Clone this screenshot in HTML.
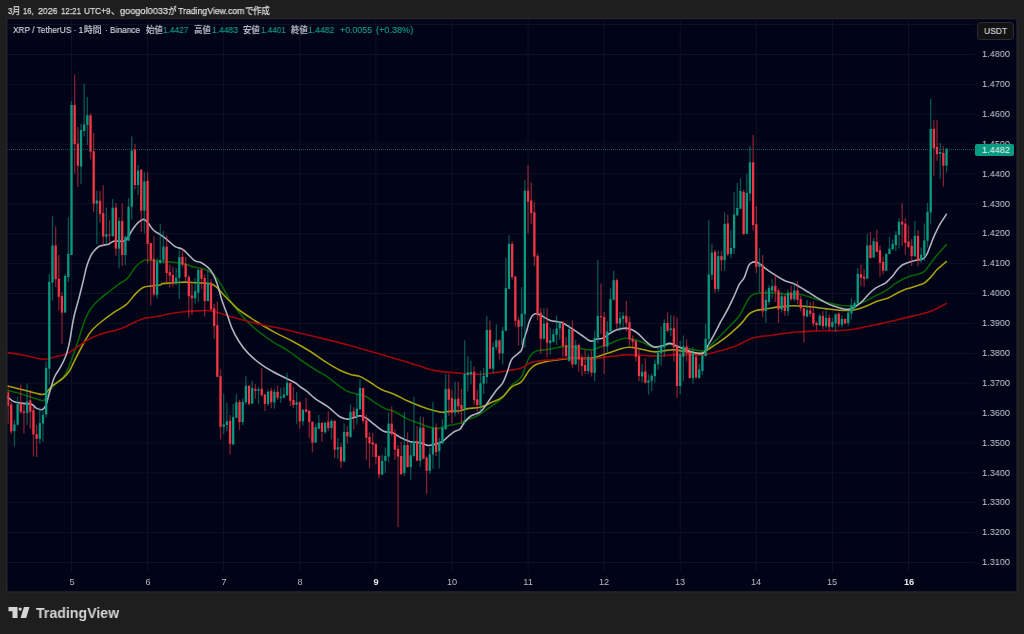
<!DOCTYPE html>
<html><head><meta charset="utf-8"><title>XRPUSDT</title>
<style>
html,body{margin:0;padding:0}
body{-webkit-font-smoothing:antialiased;width:1024px;height:634px;background:#1e1e1e;overflow:hidden;position:relative;font-family:"Liberation Sans","Noto Sans CJK JP",sans-serif;}
.hs,.ls,.pl,.xl,#last span,#usdt span,#logot span{will-change:transform}
.hs{position:absolute;top:3.6px;height:14px;line-height:14px;font-size:9.6px;color:#dcdcdc;white-space:nowrap;transform-origin:0 50%;-webkit-text-stroke:0.25px #dcdcdc}
#chart{position:absolute;left:6px;top:18px;width:1011.9px;height:574.8px;background:#010317;box-sizing:border-box;border:1.5px solid #1b1c23;overflow:hidden}
#plot{position:absolute;left:0;top:0}
.ls{position:absolute;top:23.3px;height:14px;line-height:14px;font-size:8.8px;white-space:nowrap;transform-origin:0 50%}
.ls.w{color:#d5d8df;-webkit-text-stroke:0.15px #d5d8df}
.ls.g{color:#0f9b84;-webkit-text-stroke:0.15px #0f9b84}
.pl{position:absolute;left:981.6px;width:40px;height:13px;line-height:13px;font-size:9.5px;color:#c9ccd3;text-align:left;transform:scaleX(0.965);transform-origin:0 50%;white-space:nowrap}
.xl{position:absolute;top:576px;width:40px;text-align:center;height:13px;line-height:13px;font-size:9.2px;color:#b6b9c2}
.xl.b{font-weight:bold;color:#e8e9ec}
#usdt{position:absolute;left:977.3px;top:21.7px;width:37.2px;height:18.6px;box-sizing:border-box;border:1px solid #2b2d36;border-radius:3.5px;background:#131313;}
#usdt span{position:absolute;left:0;top:0.6px;width:35.2px;text-align:center;color:#d3d3d6;font-size:9.7px;line-height:16px;transform:scaleX(0.88);-webkit-text-stroke:0.2px #d3d3d6}
#last{position:absolute;left:975.3px;top:143.6px;width:38.9px;height:12px;background:#0a9b82;border-radius:2px;}
#last span{position:absolute;left:6.6px;top:-0.4px;color:#f0f3f2;font-size:9.5px;line-height:13px;transform:scaleX(0.965);transform-origin:0 50%;white-space:nowrap}
#logo{position:absolute;left:0px;top:600px}
#logot{position:absolute;left:35.6px;top:603.4px;height:19px;}
#logot span{display:inline-block;font-size:15px;font-weight:bold;color:#d6d6d6;line-height:19px;white-space:nowrap;transform-origin:0 50%;transform:scaleX(0.9433)}
</style></head><body>
<span class="hs" style="left:7.50px;transform:scaleX(0.8421)">3</span><span class="hs" style="left:12.00px;transform:scaleX(0.8964)">月</span><span class="hs" style="left:23.40px;transform:scaleX(0.7944)">16,</span><span class="hs" style="left:37.50px;transform:scaleX(0.9136)">2026</span><span class="hs" style="left:61.00px;transform:scaleX(0.8328)">12:21</span><span class="hs" style="left:83.60px;transform:scaleX(0.8677)">UTC+9</span><span class="hs" style="left:110.60px;transform:scaleX(0.8964)">、</span><span class="hs" style="left:120.00px;transform:scaleX(0.9590)">googol0033</span><span class="hs" style="left:168.10px;transform:scaleX(0.8964)">が</span><span class="hs" style="left:177.50px;transform:scaleX(0.9088)">TradingView.com</span><span class="hs" style="left:244.50px;transform:scaleX(0.8860)">で</span><span class="hs" style="left:253.10px;transform:scaleX(0.8756)">作成</span>
<svg id="plot" width="1024" height="634" viewBox="0 0 1024 634">
<defs><clipPath id="cp"><rect x="7.5" y="19.3" width="1008.9" height="571.9"/></clipPath></defs>
<rect x="6.75" y="18.55" width="1010.4" height="573.4" fill="#010317" stroke="#24252b" stroke-width="1.5"/>
<g clip-path="url(#cp)">
<line x1="7" y1="24.619999999999973" x2="974.5" y2="24.619999999999973" stroke="#0f1126" stroke-width="1"/>
<line x1="7" y1="54.5" x2="974.5" y2="54.5" stroke="#0f1126" stroke-width="1"/>
<line x1="7" y1="84.38000000000002" x2="974.5" y2="84.38000000000002" stroke="#0f1126" stroke-width="1"/>
<line x1="7" y1="114.26000000000005" x2="974.5" y2="114.26000000000005" stroke="#0f1126" stroke-width="1"/>
<line x1="7" y1="144.1400000000001" x2="974.5" y2="144.1400000000001" stroke="#0f1126" stroke-width="1"/>
<line x1="7" y1="174.0200000000001" x2="974.5" y2="174.0200000000001" stroke="#0f1126" stroke-width="1"/>
<line x1="7" y1="203.90000000000012" x2="974.5" y2="203.90000000000012" stroke="#0f1126" stroke-width="1"/>
<line x1="7" y1="233.78000000000017" x2="974.5" y2="233.78000000000017" stroke="#0f1126" stroke-width="1"/>
<line x1="7" y1="263.6600000000002" x2="974.5" y2="263.6600000000002" stroke="#0f1126" stroke-width="1"/>
<line x1="7" y1="293.5400000000002" x2="974.5" y2="293.5400000000002" stroke="#0f1126" stroke-width="1"/>
<line x1="7" y1="323.42000000000024" x2="974.5" y2="323.42000000000024" stroke="#0f1126" stroke-width="1"/>
<line x1="7" y1="353.30000000000024" x2="974.5" y2="353.30000000000024" stroke="#0f1126" stroke-width="1"/>
<line x1="7" y1="383.1799999999996" x2="974.5" y2="383.1799999999996" stroke="#0f1126" stroke-width="1"/>
<line x1="7" y1="413.06000000000034" x2="974.5" y2="413.06000000000034" stroke="#0f1126" stroke-width="1"/>
<line x1="7" y1="442.93999999999966" x2="974.5" y2="442.93999999999966" stroke="#0f1126" stroke-width="1"/>
<line x1="7" y1="472.8199999999997" x2="974.5" y2="472.8199999999997" stroke="#0f1126" stroke-width="1"/>
<line x1="7" y1="502.69999999999976" x2="974.5" y2="502.69999999999976" stroke="#0f1126" stroke-width="1"/>
<line x1="7" y1="532.5799999999997" x2="974.5" y2="532.5799999999997" stroke="#0f1126" stroke-width="1"/>
<line x1="7" y1="562.4599999999998" x2="974.5" y2="562.4599999999998" stroke="#0f1126" stroke-width="1"/>
<line x1="71.5" y1="19" x2="71.5" y2="571.5" stroke="#0f1126" stroke-width="1"/>
<line x1="147.59" y1="19" x2="147.59" y2="571.5" stroke="#0f1126" stroke-width="1"/>
<line x1="223.68" y1="19" x2="223.68" y2="571.5" stroke="#0f1126" stroke-width="1"/>
<line x1="299.77" y1="19" x2="299.77" y2="571.5" stroke="#0f1126" stroke-width="1"/>
<line x1="375.86" y1="19" x2="375.86" y2="571.5" stroke="#0f1126" stroke-width="1"/>
<line x1="451.95000000000005" y1="19" x2="451.95000000000005" y2="571.5" stroke="#0f1126" stroke-width="1"/>
<line x1="528.04" y1="19" x2="528.04" y2="571.5" stroke="#0f1126" stroke-width="1"/>
<line x1="604.13" y1="19" x2="604.13" y2="571.5" stroke="#0f1126" stroke-width="1"/>
<line x1="680.22" y1="19" x2="680.22" y2="571.5" stroke="#0f1126" stroke-width="1"/>
<line x1="756.3100000000001" y1="19" x2="756.3100000000001" y2="571.5" stroke="#0f1126" stroke-width="1"/>
<line x1="832.4000000000001" y1="19" x2="832.4000000000001" y2="571.5" stroke="#0f1126" stroke-width="1"/>
<line x1="908.49" y1="19" x2="908.49" y2="571.5" stroke="#0f1126" stroke-width="1"/>
<path d="M5.1,389.7 C5.5,389.8 4.5,389.6 7.6,390.4 C10.7,391.2 18.1,393.1 23.7,394.7 C29.3,396.3 37.5,399.5 41.0,400.2 C44.5,400.9 43.1,401.2 45.0,399.1 C46.9,397.0 49.1,391.2 52.1,387.6 C55.1,384.0 60.2,381.0 63.1,377.3 C66.0,373.6 67.3,370.5 69.4,365.5 C71.5,360.5 74.2,351.6 75.7,347.4 C77.2,343.1 77.4,343.2 78.4,340.0 C79.5,336.8 80.6,332.4 82.0,328.4 C83.4,324.3 85.2,319.1 86.8,315.7 C88.4,312.3 89.5,310.4 91.5,307.8 C93.5,305.2 95.4,302.9 98.6,300.0 C101.8,297.1 107.0,293.3 110.5,290.5 C114.0,287.7 117.0,285.5 119.9,283.4 C122.8,281.3 125.2,280.7 127.8,277.9 C130.4,275.1 133.1,269.7 135.7,266.8 C138.3,263.9 141.0,261.6 143.6,260.5 C146.2,259.4 148.8,260.4 151.5,260.5 C154.2,260.6 156.8,261.1 160.0,261.3 C163.2,261.6 166.4,261.6 170.5,262.0 C174.6,262.4 180.8,263.0 184.7,263.9 C188.6,264.8 190.8,266.2 194.2,267.1 C197.6,268.0 202.0,268.2 205.2,269.4 C208.3,270.6 210.5,271.7 213.1,274.2 C215.7,276.7 218.4,280.3 221.0,284.4 C223.6,288.5 226.0,294.0 228.9,298.6 C231.8,303.2 235.2,307.9 238.4,311.8 C241.6,315.7 244.1,318.6 247.8,322.1 C251.5,325.7 256.3,329.8 260.5,333.1 C264.7,336.4 268.4,338.8 273.1,341.8 C277.8,344.8 284.4,348.4 288.9,351.3 C293.4,354.2 295.5,356.4 300.0,359.5 C304.5,362.6 311.3,367.2 315.8,370.0 C320.3,372.8 323.1,373.8 326.8,376.3 C330.5,378.8 334.5,382.5 337.9,385.0 C341.3,387.5 344.1,389.8 347.3,391.3 C350.5,392.8 353.6,393.1 356.8,394.0 C360.0,394.9 363.2,395.3 366.3,396.8 C369.4,398.3 372.6,401.1 375.7,403.1 C378.8,405.1 382.0,407.2 385.2,408.7 C388.4,410.1 391.0,410.1 394.7,411.8 C398.4,413.5 403.1,416.9 407.3,418.9 C411.5,420.9 416.2,422.2 419.9,423.6 C423.6,425.0 426.2,426.3 429.4,427.1 C432.6,427.9 436.0,428.6 438.9,428.4 C441.8,428.2 443.2,426.9 446.7,426.0 C450.2,425.1 457.0,424.2 460.0,423.3 C463.0,422.4 461.6,421.9 464.5,420.7 C467.4,419.5 472.9,418.2 477.1,416.0 C481.3,413.8 485.5,410.3 489.7,407.3 C493.9,404.3 498.6,401.6 502.3,397.9 C506.0,394.2 508.6,388.6 511.8,385.2 C515.0,381.8 518.9,380.7 521.3,377.3 C523.7,373.9 524.4,368.4 526.0,364.7 C527.6,361.0 528.9,357.5 530.7,355.2 C532.5,352.9 533.8,351.8 537.0,350.8 C540.2,349.8 545.5,350.0 549.7,349.3 C553.9,348.6 558.1,347.0 562.3,346.6 C566.5,346.2 571.2,346.6 574.9,347.0 C578.6,347.4 581.5,348.9 584.4,349.3 C587.3,349.8 589.4,350.1 592.3,349.7 C595.2,349.2 598.8,347.6 601.7,346.6 C604.7,345.6 607.3,344.7 610.0,343.6 C612.7,342.5 615.3,341.1 617.9,340.2 C620.5,339.3 623.2,338.3 625.8,338.2 C628.4,338.1 630.8,338.7 633.7,339.4 C636.6,340.1 640.0,341.3 643.1,342.6 C646.2,343.9 649.7,346.4 652.6,347.0 C655.5,347.6 657.6,346.9 660.5,346.5 C663.4,346.1 667.1,344.4 670.0,344.5 C672.9,344.6 674.8,346.3 677.9,347.0 C681.0,347.7 685.5,348.3 688.9,348.9 C692.3,349.5 695.8,350.2 698.4,350.5 C701.0,350.8 702.6,351.4 704.7,350.5 C706.8,349.6 708.4,347.5 711.0,345.0 C713.6,342.5 717.4,338.7 720.5,335.5 C723.6,332.3 726.8,329.3 729.9,326.0 C733.0,322.7 736.5,320.0 739.4,315.8 C742.3,311.6 745.2,304.2 747.3,300.8 C749.4,297.4 750.2,296.4 752.0,295.2 C753.8,293.9 755.3,293.7 758.3,293.3 C761.3,292.9 765.5,292.7 770.0,292.8 C774.5,292.9 781.1,294.0 785.5,294.1 C789.9,294.2 792.9,293.3 796.6,293.7 C800.3,294.1 803.9,295.2 807.6,296.3 C811.3,297.4 814.9,298.9 818.6,300.0 C822.3,301.1 826.3,302.2 829.7,303.1 C833.1,304.0 836.1,304.8 839.2,305.2 C842.4,305.6 845.7,305.9 848.6,305.8 C851.5,305.7 853.6,305.5 856.5,304.7 C859.4,303.9 862.8,302.3 866.0,300.8 C869.2,299.3 873.2,296.9 875.5,295.7 C877.8,294.5 878.0,294.9 880.0,293.8 C882.0,292.8 885.1,291.1 887.6,289.4 C890.1,287.7 892.7,285.4 895.2,283.7 C897.7,282.0 900.2,280.6 902.7,279.3 C905.2,278.0 907.8,277.0 910.3,276.1 C912.8,275.2 915.6,274.9 917.9,274.2 C920.2,273.5 922.1,273.5 924.2,271.7 C926.3,269.9 928.4,266.2 930.5,263.5 C932.6,260.8 934.9,257.6 936.8,255.3 C938.7,253.0 940.3,251.4 941.9,249.6 C943.5,247.8 945.6,245.4 946.3,244.6" fill="none" stroke="#056205" stroke-width="1.6" stroke-linejoin="round" stroke-linecap="round"/>
<path d="M5.1,385.4 C5.5,385.5 4.5,385.2 7.6,386.0 C10.7,386.8 18.1,388.6 23.7,390.0 C29.3,391.4 37.3,393.9 41.0,394.4 C44.7,394.9 43.9,394.5 45.8,393.1 C47.6,391.7 49.2,388.5 52.1,386.0 C55.0,383.5 60.2,380.6 63.1,378.1 C66.0,375.6 67.3,374.3 69.4,371.0 C71.5,367.7 73.1,363.5 75.7,358.4 C78.3,353.3 82.6,345.1 85.2,340.5 C87.8,335.9 88.9,333.8 91.5,330.7 C94.1,327.6 97.3,325.0 101.0,322.0 C104.7,319.0 109.4,315.5 113.6,312.6 C117.8,309.7 122.5,307.9 126.2,304.7 C129.9,301.5 132.8,296.5 135.7,293.6 C138.6,290.7 141.0,288.6 143.6,287.3 C146.2,286.0 148.8,286.4 151.5,286.0 C154.2,285.6 158.2,285.4 160.0,285.0 C161.8,284.6 160.3,284.0 162.6,283.6 C164.9,283.2 170.0,283.1 173.7,282.8 C177.4,282.6 180.8,282.1 184.7,282.1 C188.6,282.1 193.1,282.6 197.3,282.8 C201.5,283.1 206.8,282.9 210.0,283.6 C213.2,284.3 213.9,284.8 216.3,286.8 C218.7,288.8 221.3,292.5 224.2,295.5 C227.1,298.5 231.2,302.6 233.6,304.9 C236.0,307.2 235.5,307.3 238.4,309.5 C241.3,311.7 246.8,315.4 251.0,318.1 C255.2,320.9 259.4,323.5 263.6,326.0 C267.8,328.5 271.5,330.6 276.2,333.1 C280.9,335.6 286.4,338.0 292.0,341.0 C297.6,344.0 304.5,347.9 310.0,351.3 C315.5,354.7 320.1,358.4 325.0,361.5 C329.9,364.6 335.1,367.9 339.4,370.0 C343.6,372.1 347.1,373.3 350.5,374.4 C353.9,375.5 356.9,375.4 360.0,376.6 C363.1,377.8 365.7,379.6 369.4,381.8 C373.1,384.0 377.8,387.6 382.0,389.7 C386.2,391.8 390.5,392.6 394.7,394.5 C398.9,396.4 403.1,398.9 407.3,400.8 C411.5,402.7 415.9,404.5 419.9,406.0 C423.8,407.5 427.3,408.8 431.0,409.8 C434.7,410.9 438.9,412.1 442.0,412.3 C445.1,412.6 446.9,411.6 449.9,411.3 C452.9,411.0 457.1,411.1 460.0,410.7 C462.9,410.2 464.2,409.2 467.6,408.6 C471.0,408.0 476.2,408.3 480.2,407.3 C484.1,406.3 487.6,404.3 491.3,402.6 C495.0,400.9 498.9,399.7 502.3,397.1 C505.7,394.5 508.6,389.4 511.8,386.8 C515.0,384.2 518.4,384.6 521.3,381.8 C524.2,379.0 526.8,373.1 529.2,370.2 C531.6,367.3 533.1,366.0 535.5,364.7 C537.9,363.4 540.0,363.1 543.4,362.3 C546.8,361.5 551.8,360.6 556.0,360.0 C560.2,359.4 564.4,358.7 568.6,358.4 C572.8,358.1 577.2,358.4 581.2,358.4 C585.2,358.3 588.9,358.6 592.3,358.1 C595.7,357.6 598.8,356.1 601.7,355.2 C604.7,354.3 607.0,353.5 610.0,352.5 C613.0,351.5 616.4,350.1 619.5,349.2 C622.6,348.3 625.2,347.3 628.9,347.3 C632.6,347.3 637.4,348.4 641.6,349.2 C645.8,349.9 650.5,351.5 654.2,351.8 C657.9,352.1 660.6,351.2 663.7,350.8 C666.9,350.4 669.7,349.6 673.1,349.7 C676.5,349.8 680.5,350.8 684.2,351.3 C687.9,351.8 692.1,352.6 695.2,352.9 C698.4,353.2 701.0,353.4 703.1,352.9 C705.2,352.4 705.4,351.3 707.8,349.7 C710.2,348.1 714.1,345.6 717.3,343.4 C720.5,341.2 723.6,339.1 726.8,336.6 C729.9,334.1 733.6,330.8 736.2,328.4 C738.8,326.0 740.4,324.5 742.5,322.1 C744.6,319.7 746.8,316.1 748.9,314.2 C751.0,312.3 752.8,311.5 755.2,310.7 C757.6,309.9 760.6,309.7 763.1,309.3 C765.6,308.9 767.6,308.7 770.0,308.3 C772.4,307.9 773.7,307.5 777.6,307.1 C781.5,306.7 788.1,305.9 793.4,305.8 C798.7,305.8 803.9,306.3 809.2,306.8 C814.5,307.3 820.0,308.0 825.0,308.6 C830.0,309.2 835.0,309.9 839.2,310.2 C843.4,310.5 847.1,310.7 850.2,310.5 C853.4,310.3 855.2,309.8 858.1,309.0 C861.0,308.2 864.2,306.9 867.6,305.5 C871.0,304.1 875.3,302.0 878.6,300.8 C881.9,299.6 884.8,299.3 887.6,298.2 C890.4,297.1 892.7,295.5 895.2,294.2 C897.7,292.9 900.2,291.4 902.7,290.4 C905.2,289.3 907.8,288.7 910.3,287.9 C912.8,287.1 915.6,286.2 917.9,285.4 C920.2,284.6 922.1,284.4 924.2,283.1 C926.3,281.8 928.4,279.6 930.5,277.4 C932.6,275.2 934.9,271.8 936.8,269.8 C938.7,267.8 940.3,266.8 941.9,265.4 C943.5,264.0 945.6,262.2 946.3,261.6" fill="none" stroke="#a6a00b" stroke-width="1.6" stroke-linejoin="round" stroke-linecap="round"/>
<path d="M5.1,352.2 C5.5,352.3 4.5,352.1 7.6,352.6 C10.7,353.1 18.1,354.1 23.7,355.2 C29.3,356.2 37.1,358.3 41.0,358.9 C44.9,359.5 44.9,359.2 47.3,358.9 C49.7,358.5 52.0,357.6 55.2,356.8 C58.4,356.0 62.9,355.6 66.3,354.1 C69.7,352.7 72.0,350.5 75.7,348.1 C79.4,345.7 84.2,341.9 88.4,339.5 C92.6,337.1 96.3,335.5 101.0,333.9 C105.7,332.3 112.6,331.2 116.8,330.0 C121.0,328.8 122.0,328.4 126.2,326.5 C130.4,324.6 137.8,320.4 142.0,318.9 C146.2,317.4 148.5,317.8 151.5,317.3 C154.5,316.8 157.6,316.5 160.0,316.0 C162.4,315.5 162.2,315.2 165.8,314.5 C169.4,313.8 176.3,312.6 181.6,312.0 C186.8,311.4 192.6,311.1 197.3,310.9 C202.0,310.7 206.1,310.2 210.0,310.6 C213.9,311.0 217.3,312.3 221.0,313.4 C224.7,314.5 227.5,315.7 232.0,317.0 C236.5,318.3 242.5,319.9 247.8,321.3 C253.1,322.7 257.6,323.9 263.6,325.2 C269.7,326.5 276.4,327.5 284.1,329.2 C291.8,330.9 299.0,332.8 310.0,335.5 C321.0,338.2 335.0,341.4 350.0,345.5 C365.0,349.6 386.2,355.9 400.0,360.0 C413.8,364.1 425.0,368.0 432.5,370.0 C440.0,372.0 440.6,371.4 445.2,371.9 C449.8,372.4 456.3,372.9 460.0,373.2 C463.7,373.5 464.2,373.7 467.6,373.9 C471.0,374.1 475.7,374.4 480.2,374.2 C484.7,374.0 489.9,373.2 494.4,372.6 C498.9,372.0 502.6,371.5 507.1,370.7 C511.6,369.9 517.4,369.2 521.3,367.9 C525.2,366.6 527.6,364.0 530.7,362.8 C533.9,361.6 536.5,361.3 540.2,360.8 C543.9,360.3 548.6,360.1 552.8,359.7 C557.0,359.3 560.8,358.6 565.5,358.4 C570.2,358.2 576.5,358.3 581.2,358.4 C585.9,358.4 590.0,358.9 593.9,358.7 C597.8,358.5 601.4,357.6 604.9,357.1 C608.4,356.7 611.5,356.4 615.0,356.0 C618.5,355.6 621.4,355.0 625.8,354.9 C630.2,354.8 636.4,355.0 641.6,355.2 C646.9,355.4 652.0,356.1 657.3,356.0 C662.5,355.9 667.8,355.2 673.1,354.9 C678.4,354.6 684.7,354.3 688.9,354.4 C693.1,354.4 695.5,355.2 698.4,355.2 C701.3,355.2 702.6,355.1 706.3,354.4 C710.0,353.7 715.5,352.2 720.5,350.8 C725.5,349.4 731.5,347.7 736.2,345.8 C740.9,343.9 745.2,340.9 748.9,339.4 C752.6,337.9 754.8,337.4 758.3,336.8 C761.8,336.2 766.2,336.0 770.0,335.5 C773.8,335.0 776.4,334.5 780.8,333.9 C785.2,333.3 791.4,332.5 796.6,332.0 C801.9,331.5 807.0,331.3 812.3,331.1 C817.5,330.9 823.4,330.8 828.1,330.7 C832.8,330.6 836.5,330.6 840.7,330.4 C844.9,330.1 849.2,329.8 853.4,329.2 C857.6,328.6 861.8,327.6 866.0,326.8 C870.2,326.0 874.4,325.0 878.6,324.1 C882.8,323.2 887.0,322.3 891.2,321.3 C895.4,320.3 899.7,319.1 903.9,318.1 C908.1,317.1 913.0,316.1 916.5,315.3 C920.0,314.5 921.9,314.1 925.0,313.1 C928.1,312.1 931.5,311.1 935.0,309.5 C938.5,307.9 944.4,304.5 946.3,303.5" fill="none" stroke="#9e050d" stroke-width="1.6" stroke-linejoin="round" stroke-linecap="round"/>
<path d="M5.1,395.2 C5.5,395.5 6.1,395.9 7.6,397.0 C9.1,398.1 11.5,400.7 14.2,401.8 C16.9,402.9 20.8,403.0 23.7,403.4 C26.6,403.8 29.5,403.4 31.6,404.2 C33.7,405.0 34.6,407.2 36.3,408.1 C38.0,409.0 40.2,410.1 41.8,409.7 C43.4,409.3 44.6,408.2 45.8,405.7 C47.0,403.2 47.5,399.4 48.9,394.7 C50.3,390.0 52.5,381.8 54.4,377.3 C56.2,372.8 58.1,371.3 60.0,367.9 C61.9,364.5 63.9,361.0 65.5,356.8 C67.1,352.6 68.4,347.3 69.4,342.6 C70.5,337.9 71.0,332.9 71.8,328.4 C72.6,323.9 73.0,320.7 74.2,315.7 C75.4,310.7 77.3,304.4 78.9,298.4 C80.5,292.3 82.3,284.8 83.6,279.4 C84.9,274.0 85.6,269.9 86.8,266.0 C88.0,262.1 89.4,258.4 90.7,255.8 C92.0,253.2 93.2,251.9 94.7,250.3 C96.2,248.7 97.0,247.4 99.4,246.3 C101.8,245.2 106.5,244.8 108.9,244.0 C111.3,243.2 111.5,241.7 113.6,241.2 C115.7,240.7 119.4,241.4 121.5,241.2 C123.6,241.0 124.6,241.5 126.2,240.0 C127.8,238.5 129.2,234.8 131.0,232.0 C132.8,229.2 135.2,225.5 137.3,223.4 C139.5,221.3 142.1,219.4 143.9,219.4 C145.7,219.4 146.7,221.6 148.3,223.4 C150.0,225.2 151.9,228.7 153.8,230.5 C155.8,232.3 158.0,233.0 160.0,234.4 C162.0,235.8 163.3,236.7 165.8,238.7 C168.3,240.7 172.3,244.8 175.2,246.6 C178.1,248.4 179.9,247.4 183.1,249.7 C186.3,252.0 191.3,258.3 194.2,260.4 C197.1,262.5 198.1,261.1 200.5,262.3 C202.9,263.6 206.3,265.9 208.4,267.9 C210.5,269.9 211.5,271.2 213.1,274.2 C214.7,277.2 216.4,281.7 217.9,286.0 C219.4,290.3 220.2,295.2 221.8,300.0 C223.4,304.8 225.6,310.3 227.3,315.0 C229.0,319.7 230.0,323.9 232.0,328.4 C234.0,332.9 236.6,337.7 239.2,341.8 C241.8,345.9 244.2,349.2 247.8,352.9 C251.4,356.6 256.3,360.8 260.5,363.9 C264.7,367.0 269.2,369.6 273.1,371.8 C277.0,374.0 280.4,375.5 284.1,377.3 C287.8,379.1 292.6,381.2 295.2,382.8 C297.8,384.4 297.9,385.1 300.0,386.6 C302.1,388.2 305.3,390.0 307.9,392.1 C310.5,394.2 312.4,396.7 315.8,399.2 C319.2,401.7 324.5,404.2 328.4,407.1 C332.3,410.0 336.2,414.5 339.4,416.5 C342.5,418.5 344.7,419.1 347.3,419.2 C349.9,419.3 353.1,417.9 355.2,417.3 C357.3,416.7 358.1,415.7 360.0,415.8 C361.9,415.9 363.9,416.7 366.3,418.1 C368.7,419.5 371.3,422.2 374.2,424.4 C377.1,426.6 380.5,429.8 383.6,431.2 C386.8,432.6 390.2,432.0 393.1,433.1 C396.0,434.2 398.1,436.4 401.0,437.8 C403.9,439.2 407.4,441.0 410.5,441.8 C413.6,442.6 417.0,442.0 419.9,442.6 C422.8,443.2 425.4,445.1 427.8,445.4 C430.2,445.7 431.7,445.1 434.1,444.5 C436.5,443.9 439.6,443.2 442.0,441.8 C444.4,440.4 446.2,438.0 448.3,436.3 C450.4,434.6 452.7,432.7 454.6,431.5 C456.6,430.3 458.4,430.7 460.0,429.2 C461.6,427.7 462.7,424.5 464.5,422.3 C466.3,420.1 468.2,417.7 470.8,416.0 C473.4,414.3 477.6,414.0 480.2,412.0 C482.8,410.0 484.0,407.8 486.6,404.2 C489.2,400.6 493.4,394.1 496.0,390.7 C498.6,387.3 500.4,386.6 502.3,383.6 C504.2,380.6 505.5,376.7 507.1,372.6 C508.7,368.5 509.4,362.9 511.8,359.2 C514.2,355.5 519.3,353.5 521.3,350.5 C523.2,347.5 522.7,343.9 523.5,341.0 C524.3,338.1 525.0,336.3 526.0,333.1 C527.0,329.9 528.2,324.9 529.2,322.0 C530.2,319.1 531.2,317.1 532.3,315.7 C533.3,314.3 534.2,313.9 535.5,313.8 C536.8,313.7 537.8,313.9 540.2,315.0 C542.6,316.1 546.8,319.1 549.7,320.2 C552.6,321.3 555.5,321.3 557.6,321.7 C559.7,322.1 560.5,322.0 562.3,322.8 C564.1,323.6 566.5,325.2 568.6,326.5 C570.7,327.8 572.8,329.3 574.9,330.7 C577.0,332.1 578.8,333.4 581.2,335.0 C583.6,336.6 587.1,339.5 589.1,340.5 C591.1,341.5 591.7,341.2 593.0,341.0 C594.3,340.8 595.3,339.5 597.0,339.0 C598.7,338.5 601.2,338.9 603.3,338.0 C605.4,337.1 607.4,334.8 609.6,333.5 C611.8,332.2 613.6,330.9 616.3,330.0 C619.0,329.1 623.2,328.2 625.8,328.1 C628.4,328.1 630.0,328.7 632.1,329.7 C634.2,330.7 636.0,331.9 638.4,333.9 C640.8,335.9 643.7,339.6 646.3,341.8 C648.9,344.0 651.6,346.3 654.2,347.0 C656.8,347.7 659.5,346.4 662.1,345.8 C664.7,345.2 667.4,343.3 670.0,343.4 C672.6,343.5 675.3,345.4 677.9,346.5 C680.5,347.6 682.8,348.6 685.7,349.7 C688.6,350.8 692.3,352.3 695.2,352.9 C698.1,353.5 701.0,354.5 703.1,353.3 C705.2,352.1 706.0,348.9 707.8,345.8 C709.6,342.7 712.0,338.6 714.1,334.7 C716.2,330.8 718.4,326.1 720.5,322.1 C722.6,318.2 724.7,314.9 726.8,311.0 C728.9,307.1 731.0,302.9 733.1,298.4 C735.2,293.9 737.6,287.6 739.4,284.2 C741.2,280.8 742.5,281.1 744.1,277.9 C745.7,274.7 747.5,267.8 748.9,265.2 C750.3,262.6 751.2,262.5 752.8,262.1 C754.4,261.7 756.3,261.9 758.3,262.9 C760.3,263.8 761.9,265.8 764.6,267.8 C767.3,269.8 771.3,272.6 774.5,274.7 C777.7,276.8 780.5,278.6 783.9,280.2 C787.3,281.8 791.6,282.6 795.0,284.2 C798.4,285.8 801.0,287.6 804.4,289.7 C807.8,291.8 811.8,294.6 815.5,296.8 C819.2,299.0 823.4,301.5 826.5,303.1 C829.6,304.7 831.5,305.3 834.4,306.3 C837.3,307.3 841.3,308.6 843.9,309.0 C846.5,309.4 848.1,309.5 850.2,309.0 C852.3,308.5 854.4,307.2 856.5,305.8 C858.6,304.4 860.7,302.8 862.8,300.8 C864.9,298.8 867.0,295.8 869.1,293.7 C871.2,291.6 873.1,289.7 875.5,288.1 C877.9,286.5 881.5,285.1 883.3,284.2 C885.1,283.2 884.8,283.8 886.3,282.4 C887.8,281.0 890.7,278.3 892.6,276.1 C894.5,273.9 896.0,271.1 897.7,269.2 C899.4,267.3 900.8,266.0 902.7,264.8 C904.6,263.6 906.9,262.9 909.0,262.2 C911.1,261.5 913.1,261.0 915.4,260.4 C917.7,259.8 921.0,259.8 922.9,258.8 C924.8,257.9 925.4,257.0 926.7,254.7 C928.0,252.4 929.2,248.4 930.5,245.2 C931.8,242.0 932.8,239.0 934.3,235.7 C935.8,232.4 937.8,228.0 939.3,225.3 C940.8,222.6 941.9,221.1 943.1,219.3 C944.3,217.5 945.8,215.1 946.3,214.3" fill="none" stroke="#b2b1be" stroke-width="1.6" stroke-linejoin="round" stroke-linecap="round"/>
<line x1="8.09" y1="387.6" x2="8.09" y2="424.0" stroke="#f23645" stroke-width="1.3" opacity="0.55"/>
<rect x="6.94" y="392.3" width="2.3" height="13.5" fill="#f23645"/>
<line x1="11.26" y1="401.8" x2="11.26" y2="433.9" stroke="#f23645" stroke-width="1.3" opacity="0.55"/>
<rect x="10.11" y="404.5" width="2.3" height="26.8" fill="#f23645"/>
<line x1="14.43" y1="420.0" x2="14.43" y2="446.5" stroke="#089981" stroke-width="1.3" opacity="0.55"/>
<rect x="13.28" y="424.4" width="2.3" height="6.6" fill="#089981"/>
<line x1="17.60" y1="396.6" x2="17.60" y2="425.5" stroke="#089981" stroke-width="1.3" opacity="0.55"/>
<rect x="16.45" y="403.9" width="2.3" height="20.8" fill="#089981"/>
<line x1="20.77" y1="384.4" x2="20.77" y2="413.7" stroke="#f23645" stroke-width="1.3" opacity="0.55"/>
<rect x="19.62" y="403.4" width="2.3" height="8.6" fill="#f23645"/>
<line x1="23.94" y1="403.4" x2="23.94" y2="433.4" stroke="#f23645" stroke-width="1.3" opacity="0.55"/>
<rect x="22.79" y="411.3" width="2.3" height="1.6" fill="#f23645"/>
<line x1="27.11" y1="383.6" x2="27.11" y2="424.7" stroke="#089981" stroke-width="1.3" opacity="0.55"/>
<rect x="25.96" y="401.4" width="2.3" height="11.5" fill="#089981"/>
<line x1="30.28" y1="390.0" x2="30.28" y2="428.7" stroke="#f23645" stroke-width="1.3" opacity="0.55"/>
<rect x="29.13" y="400.3" width="2.3" height="11.5" fill="#f23645"/>
<line x1="33.45" y1="406.6" x2="33.45" y2="456.6" stroke="#f23645" stroke-width="1.3" opacity="0.55"/>
<rect x="32.30" y="410.2" width="2.3" height="24.3" fill="#f23645"/>
<line x1="36.63" y1="425.0" x2="36.63" y2="457.0" stroke="#f23645" stroke-width="1.3" opacity="0.55"/>
<rect x="35.48" y="434.2" width="2.3" height="4.7" fill="#f23645"/>
<line x1="39.80" y1="407.4" x2="39.80" y2="443.6" stroke="#089981" stroke-width="1.3" opacity="0.55"/>
<rect x="38.65" y="423.1" width="2.3" height="15.8" fill="#089981"/>
<line x1="42.97" y1="410.5" x2="42.97" y2="441.8" stroke="#089981" stroke-width="1.3" opacity="0.55"/>
<rect x="41.82" y="414.9" width="2.3" height="8.6" fill="#089981"/>
<line x1="46.14" y1="361.6" x2="46.14" y2="417.6" stroke="#089981" stroke-width="1.3" opacity="0.55"/>
<rect x="44.99" y="367.9" width="2.3" height="46.6" fill="#089981"/>
<line x1="49.31" y1="273.9" x2="49.31" y2="384.4" stroke="#089981" stroke-width="1.3" opacity="0.55"/>
<rect x="48.16" y="281.8" width="2.3" height="86.9" fill="#089981"/>
<line x1="52.48" y1="216.3" x2="52.48" y2="300.7" stroke="#089981" stroke-width="1.3" opacity="0.55"/>
<rect x="51.33" y="245.5" width="2.3" height="37.1" fill="#089981"/>
<line x1="55.65" y1="226.5" x2="55.65" y2="287.0" stroke="#f23645" stroke-width="1.3" opacity="0.55"/>
<rect x="54.50" y="245.5" width="2.3" height="33.6" fill="#f23645"/>
<line x1="58.82" y1="255.0" x2="58.82" y2="310.2" stroke="#f23645" stroke-width="1.3" opacity="0.55"/>
<rect x="57.67" y="278.7" width="2.3" height="18.1" fill="#f23645"/>
<line x1="61.99" y1="292.0" x2="61.99" y2="343.9" stroke="#f23645" stroke-width="1.3" opacity="0.55"/>
<rect x="60.84" y="296.0" width="2.3" height="16.6" fill="#f23645"/>
<line x1="65.16" y1="273.9" x2="65.16" y2="312.6" stroke="#089981" stroke-width="1.3" opacity="0.55"/>
<rect x="64.01" y="276.0" width="2.3" height="36.6" fill="#089981"/>
<line x1="68.33" y1="217.5" x2="68.33" y2="282.3" stroke="#089981" stroke-width="1.3" opacity="0.55"/>
<rect x="67.18" y="253.9" width="2.3" height="23.2" fill="#089981"/>
<line x1="71.50" y1="101.0" x2="71.50" y2="255.0" stroke="#089981" stroke-width="1.3" opacity="0.55"/>
<rect x="70.35" y="105.0" width="2.3" height="150.0" fill="#089981"/>
<line x1="74.67" y1="74.5" x2="74.67" y2="173.7" stroke="#f23645" stroke-width="1.3" opacity="0.55"/>
<rect x="73.52" y="105.0" width="2.3" height="39.0" fill="#f23645"/>
<line x1="77.84" y1="127.0" x2="77.84" y2="187.0" stroke="#f23645" stroke-width="1.3" opacity="0.55"/>
<rect x="76.69" y="143.6" width="2.3" height="22.2" fill="#f23645"/>
<line x1="81.01" y1="124.0" x2="81.01" y2="184.0" stroke="#089981" stroke-width="1.3" opacity="0.55"/>
<rect x="79.86" y="130.0" width="2.3" height="36.6" fill="#089981"/>
<line x1="84.18" y1="83.7" x2="84.18" y2="136.5" stroke="#089981" stroke-width="1.3" opacity="0.55"/>
<rect x="83.03" y="124.4" width="2.3" height="6.6" fill="#089981"/>
<line x1="87.35" y1="97.0" x2="87.35" y2="145.0" stroke="#089981" stroke-width="1.3" opacity="0.55"/>
<rect x="86.20" y="115.2" width="2.3" height="9.8" fill="#089981"/>
<line x1="90.52" y1="113.3" x2="90.52" y2="159.5" stroke="#f23645" stroke-width="1.3" opacity="0.55"/>
<rect x="89.37" y="115.5" width="2.3" height="36.2" fill="#f23645"/>
<line x1="93.69" y1="133.0" x2="93.69" y2="212.3" stroke="#f23645" stroke-width="1.3" opacity="0.55"/>
<rect x="92.54" y="151.2" width="2.3" height="52.4" fill="#f23645"/>
<line x1="96.86" y1="190.7" x2="96.86" y2="243.9" stroke="#089981" stroke-width="1.3" opacity="0.55"/>
<rect x="95.71" y="200.5" width="2.3" height="3.1" fill="#089981"/>
<line x1="100.03" y1="190.7" x2="100.03" y2="222.6" stroke="#f23645" stroke-width="1.3" opacity="0.55"/>
<rect x="98.88" y="200.8" width="2.3" height="13.1" fill="#f23645"/>
<line x1="103.20" y1="185.0" x2="103.20" y2="245.5" stroke="#f23645" stroke-width="1.3" opacity="0.55"/>
<rect x="102.05" y="213.0" width="2.3" height="23.5" fill="#f23645"/>
<line x1="106.37" y1="207.6" x2="106.37" y2="244.7" stroke="#089981" stroke-width="1.3" opacity="0.55"/>
<rect x="105.22" y="234.4" width="2.3" height="2.4" fill="#089981"/>
<line x1="109.55" y1="220.0" x2="109.55" y2="243.0" stroke="#f23645" stroke-width="1.3" opacity="0.55"/>
<rect x="108.39" y="234.5" width="2.3" height="1.0" fill="#f23645"/>
<line x1="112.72" y1="199.0" x2="112.72" y2="237.0" stroke="#089981" stroke-width="1.3" opacity="0.55"/>
<rect x="111.57" y="207.6" width="2.3" height="28.4" fill="#089981"/>
<line x1="115.89" y1="202.9" x2="115.89" y2="255.8" stroke="#f23645" stroke-width="1.3" opacity="0.55"/>
<rect x="114.74" y="207.6" width="2.3" height="41.1" fill="#f23645"/>
<line x1="119.06" y1="217.8" x2="119.06" y2="268.4" stroke="#089981" stroke-width="1.3" opacity="0.55"/>
<rect x="117.91" y="221.0" width="2.3" height="27.7" fill="#089981"/>
<line x1="122.23" y1="203.6" x2="122.23" y2="266.0" stroke="#f23645" stroke-width="1.3" opacity="0.55"/>
<rect x="121.08" y="221.0" width="2.3" height="34.0" fill="#f23645"/>
<line x1="125.40" y1="236.0" x2="125.40" y2="265.2" stroke="#089981" stroke-width="1.3" opacity="0.55"/>
<rect x="124.25" y="236.8" width="2.3" height="18.2" fill="#089981"/>
<line x1="128.57" y1="198.0" x2="128.57" y2="241.0" stroke="#089981" stroke-width="1.3" opacity="0.55"/>
<rect x="127.42" y="206.8" width="2.3" height="33.9" fill="#089981"/>
<line x1="131.74" y1="136.5" x2="131.74" y2="219.4" stroke="#089981" stroke-width="1.3" opacity="0.55"/>
<rect x="130.59" y="150.7" width="2.3" height="56.1" fill="#089981"/>
<line x1="134.91" y1="144.0" x2="134.91" y2="189.4" stroke="#f23645" stroke-width="1.3" opacity="0.55"/>
<rect x="133.76" y="149.6" width="2.3" height="35.4" fill="#f23645"/>
<line x1="138.08" y1="165.0" x2="138.08" y2="195.0" stroke="#089981" stroke-width="1.3" opacity="0.55"/>
<rect x="136.93" y="170.5" width="2.3" height="14.5" fill="#089981"/>
<line x1="141.25" y1="169.0" x2="141.25" y2="232.0" stroke="#f23645" stroke-width="1.3" opacity="0.55"/>
<rect x="140.10" y="169.7" width="2.3" height="41.0" fill="#f23645"/>
<line x1="144.42" y1="172.0" x2="144.42" y2="233.6" stroke="#089981" stroke-width="1.3" opacity="0.55"/>
<rect x="143.27" y="181.6" width="2.3" height="29.1" fill="#089981"/>
<line x1="147.59" y1="172.0" x2="147.59" y2="263.7" stroke="#f23645" stroke-width="1.3" opacity="0.55"/>
<rect x="146.44" y="180.8" width="2.3" height="63.1" fill="#f23645"/>
<line x1="150.76" y1="243.0" x2="150.76" y2="305.5" stroke="#f23645" stroke-width="1.3" opacity="0.55"/>
<rect x="149.61" y="243.0" width="2.3" height="16.7" fill="#f23645"/>
<line x1="153.93" y1="236.0" x2="153.93" y2="296.8" stroke="#f23645" stroke-width="1.3" opacity="0.55"/>
<rect x="152.78" y="258.9" width="2.3" height="35.5" fill="#f23645"/>
<line x1="157.10" y1="258.1" x2="157.10" y2="298.4" stroke="#089981" stroke-width="1.3" opacity="0.55"/>
<rect x="155.95" y="262.1" width="2.3" height="32.8" fill="#089981"/>
<line x1="160.27" y1="223.7" x2="160.27" y2="263.6" stroke="#089981" stroke-width="1.3" opacity="0.55"/>
<rect x="159.12" y="260.0" width="2.3" height="3.1" fill="#089981"/>
<line x1="163.44" y1="230.8" x2="163.44" y2="263.9" stroke="#089981" stroke-width="1.3" opacity="0.55"/>
<rect x="162.29" y="246.6" width="2.3" height="13.4" fill="#089981"/>
<line x1="166.61" y1="235.5" x2="166.61" y2="282.8" stroke="#f23645" stroke-width="1.3" opacity="0.55"/>
<rect x="165.46" y="246.6" width="2.3" height="26.5" fill="#f23645"/>
<line x1="169.78" y1="264.7" x2="169.78" y2="287.3" stroke="#f23645" stroke-width="1.3" opacity="0.55"/>
<rect x="168.63" y="272.1" width="2.3" height="3.6" fill="#f23645"/>
<line x1="172.95" y1="267.1" x2="172.95" y2="287.3" stroke="#f23645" stroke-width="1.3" opacity="0.55"/>
<rect x="171.80" y="275.0" width="2.3" height="8.2" fill="#f23645"/>
<line x1="176.12" y1="267.9" x2="176.12" y2="285.2" stroke="#089981" stroke-width="1.3" opacity="0.55"/>
<rect x="174.97" y="277.8" width="2.3" height="5.4" fill="#089981"/>
<line x1="179.29" y1="249.7" x2="179.29" y2="299.0" stroke="#089981" stroke-width="1.3" opacity="0.55"/>
<rect x="178.14" y="257.3" width="2.3" height="20.5" fill="#089981"/>
<line x1="182.46" y1="248.9" x2="182.46" y2="267.1" stroke="#f23645" stroke-width="1.3" opacity="0.55"/>
<rect x="181.31" y="256.8" width="2.3" height="7.9" fill="#f23645"/>
<line x1="185.63" y1="257.3" x2="185.63" y2="281.3" stroke="#f23645" stroke-width="1.3" opacity="0.55"/>
<rect x="184.48" y="263.9" width="2.3" height="13.1" fill="#f23645"/>
<line x1="188.81" y1="275.0" x2="188.81" y2="317.7" stroke="#f23645" stroke-width="1.3" opacity="0.55"/>
<rect x="187.66" y="277.0" width="2.3" height="19.3" fill="#f23645"/>
<line x1="191.98" y1="283.6" x2="191.98" y2="315.0" stroke="#f23645" stroke-width="1.3" opacity="0.55"/>
<rect x="190.83" y="295.5" width="2.3" height="2.8" fill="#f23645"/>
<line x1="195.15" y1="278.1" x2="195.15" y2="303.4" stroke="#089981" stroke-width="1.3" opacity="0.55"/>
<rect x="194.00" y="291.2" width="2.3" height="7.1" fill="#089981"/>
<line x1="198.32" y1="268.6" x2="198.32" y2="301.8" stroke="#089981" stroke-width="1.3" opacity="0.55"/>
<rect x="197.17" y="269.9" width="2.3" height="22.7" fill="#089981"/>
<line x1="201.49" y1="268.3" x2="201.49" y2="289.2" stroke="#f23645" stroke-width="1.3" opacity="0.55"/>
<rect x="200.34" y="269.4" width="2.3" height="9.5" fill="#f23645"/>
<line x1="204.66" y1="274.2" x2="204.66" y2="316.6" stroke="#f23645" stroke-width="1.3" opacity="0.55"/>
<rect x="203.51" y="278.1" width="2.3" height="22.9" fill="#f23645"/>
<line x1="207.83" y1="270.2" x2="207.83" y2="301.5" stroke="#089981" stroke-width="1.3" opacity="0.55"/>
<rect x="206.68" y="283.2" width="2.3" height="17.8" fill="#089981"/>
<line x1="211.00" y1="278.9" x2="211.00" y2="310.5" stroke="#f23645" stroke-width="1.3" opacity="0.55"/>
<rect x="209.85" y="282.8" width="2.3" height="26.5" fill="#f23645"/>
<line x1="214.17" y1="304.0" x2="214.17" y2="338.7" stroke="#f23645" stroke-width="1.3" opacity="0.55"/>
<rect x="213.02" y="308.3" width="2.3" height="17.7" fill="#f23645"/>
<line x1="217.34" y1="301.6" x2="217.34" y2="377.3" stroke="#f23645" stroke-width="1.3" opacity="0.55"/>
<rect x="216.19" y="325.2" width="2.3" height="51.6" fill="#f23645"/>
<line x1="220.51" y1="369.4" x2="220.51" y2="439.4" stroke="#f23645" stroke-width="1.3" opacity="0.55"/>
<rect x="219.36" y="376.2" width="2.3" height="50.6" fill="#f23645"/>
<line x1="223.68" y1="394.0" x2="223.68" y2="433.9" stroke="#089981" stroke-width="1.3" opacity="0.55"/>
<rect x="222.53" y="424.4" width="2.3" height="2.4" fill="#089981"/>
<line x1="226.85" y1="403.1" x2="226.85" y2="431.2" stroke="#089981" stroke-width="1.3" opacity="0.55"/>
<rect x="225.70" y="421.3" width="2.3" height="3.6" fill="#089981"/>
<line x1="230.02" y1="415.0" x2="230.02" y2="454.4" stroke="#f23645" stroke-width="1.3" opacity="0.55"/>
<rect x="228.87" y="420.8" width="2.3" height="23.0" fill="#f23645"/>
<line x1="233.19" y1="403.9" x2="233.19" y2="444.8" stroke="#089981" stroke-width="1.3" opacity="0.55"/>
<rect x="232.04" y="417.0" width="2.3" height="27.5" fill="#089981"/>
<line x1="236.36" y1="394.0" x2="236.36" y2="418.1" stroke="#089981" stroke-width="1.3" opacity="0.55"/>
<rect x="235.21" y="402.3" width="2.3" height="15.4" fill="#089981"/>
<line x1="239.53" y1="399.7" x2="239.53" y2="430.0" stroke="#f23645" stroke-width="1.3" opacity="0.55"/>
<rect x="238.38" y="401.9" width="2.3" height="20.2" fill="#f23645"/>
<line x1="242.70" y1="398.4" x2="242.70" y2="424.9" stroke="#089981" stroke-width="1.3" opacity="0.55"/>
<rect x="241.55" y="401.9" width="2.3" height="20.2" fill="#089981"/>
<line x1="245.87" y1="376.3" x2="245.87" y2="404.4" stroke="#089981" stroke-width="1.3" opacity="0.55"/>
<rect x="244.72" y="385.8" width="2.3" height="16.5" fill="#089981"/>
<line x1="249.04" y1="385.0" x2="249.04" y2="405.5" stroke="#f23645" stroke-width="1.3" opacity="0.55"/>
<rect x="247.89" y="385.8" width="2.3" height="18.1" fill="#f23645"/>
<line x1="252.21" y1="381.0" x2="252.21" y2="404.0" stroke="#089981" stroke-width="1.3" opacity="0.55"/>
<rect x="251.06" y="388.1" width="2.3" height="15.4" fill="#089981"/>
<line x1="255.38" y1="384.2" x2="255.38" y2="398.7" stroke="#f23645" stroke-width="1.3" opacity="0.55"/>
<rect x="254.23" y="388.9" width="2.3" height="1.9" fill="#f23645"/>
<line x1="258.55" y1="387.0" x2="258.55" y2="404.4" stroke="#089981" stroke-width="1.3" opacity="0.55"/>
<rect x="257.40" y="389.3" width="2.3" height="1.5" fill="#089981"/>
<line x1="261.73" y1="368.2" x2="261.73" y2="396.8" stroke="#f23645" stroke-width="1.3" opacity="0.55"/>
<rect x="260.58" y="388.9" width="2.3" height="6.3" fill="#f23645"/>
<line x1="264.90" y1="393.7" x2="264.90" y2="411.0" stroke="#f23645" stroke-width="1.3" opacity="0.55"/>
<rect x="263.75" y="394.5" width="2.3" height="9.4" fill="#f23645"/>
<line x1="268.07" y1="389.7" x2="268.07" y2="406.0" stroke="#089981" stroke-width="1.3" opacity="0.55"/>
<rect x="266.92" y="391.8" width="2.3" height="12.1" fill="#089981"/>
<line x1="271.24" y1="387.7" x2="271.24" y2="408.2" stroke="#f23645" stroke-width="1.3" opacity="0.55"/>
<rect x="270.09" y="390.8" width="2.3" height="11.5" fill="#f23645"/>
<line x1="274.41" y1="388.9" x2="274.41" y2="408.7" stroke="#089981" stroke-width="1.3" opacity="0.55"/>
<rect x="273.26" y="391.8" width="2.3" height="10.5" fill="#089981"/>
<line x1="277.58" y1="385.5" x2="277.58" y2="400.0" stroke="#f23645" stroke-width="1.3" opacity="0.55"/>
<rect x="276.43" y="391.8" width="2.3" height="5.8" fill="#f23645"/>
<line x1="280.75" y1="388.1" x2="280.75" y2="403.1" stroke="#089981" stroke-width="1.3" opacity="0.55"/>
<rect x="279.60" y="396.8" width="2.3" height="1.3" fill="#089981"/>
<line x1="283.92" y1="387.0" x2="283.92" y2="398.4" stroke="#089981" stroke-width="1.3" opacity="0.55"/>
<rect x="282.77" y="394.5" width="2.3" height="3.1" fill="#089981"/>
<line x1="287.09" y1="372.8" x2="287.09" y2="396.0" stroke="#089981" stroke-width="1.3" opacity="0.55"/>
<rect x="285.94" y="382.9" width="2.3" height="12.3" fill="#089981"/>
<line x1="290.26" y1="382.4" x2="290.26" y2="406.0" stroke="#f23645" stroke-width="1.3" opacity="0.55"/>
<rect x="289.11" y="382.9" width="2.3" height="17.9" fill="#f23645"/>
<line x1="293.43" y1="387.0" x2="293.43" y2="407.9" stroke="#f23645" stroke-width="1.3" opacity="0.55"/>
<rect x="292.28" y="400.0" width="2.3" height="5.0" fill="#f23645"/>
<line x1="296.60" y1="392.1" x2="296.60" y2="423.6" stroke="#089981" stroke-width="1.3" opacity="0.55"/>
<rect x="295.45" y="402.3" width="2.3" height="2.4" fill="#089981"/>
<line x1="299.77" y1="401.6" x2="299.77" y2="428.7" stroke="#f23645" stroke-width="1.3" opacity="0.55"/>
<rect x="298.62" y="402.0" width="2.3" height="19.3" fill="#f23645"/>
<line x1="302.94" y1="409.1" x2="302.94" y2="425.5" stroke="#089981" stroke-width="1.3" opacity="0.55"/>
<rect x="301.79" y="409.8" width="2.3" height="11.5" fill="#089981"/>
<line x1="306.11" y1="398.1" x2="306.11" y2="412.3" stroke="#f23645" stroke-width="1.3" opacity="0.55"/>
<rect x="304.96" y="409.4" width="2.3" height="2.4" fill="#f23645"/>
<line x1="309.28" y1="410.2" x2="309.28" y2="437.8" stroke="#f23645" stroke-width="1.3" opacity="0.55"/>
<rect x="308.13" y="410.7" width="2.3" height="11.4" fill="#f23645"/>
<line x1="312.45" y1="421.3" x2="312.45" y2="452.4" stroke="#f23645" stroke-width="1.3" opacity="0.55"/>
<rect x="311.30" y="421.8" width="2.3" height="20.8" fill="#f23645"/>
<line x1="315.62" y1="423.6" x2="315.62" y2="442.9" stroke="#089981" stroke-width="1.3" opacity="0.55"/>
<rect x="314.47" y="427.1" width="2.3" height="15.5" fill="#089981"/>
<line x1="318.79" y1="415.0" x2="318.79" y2="429.2" stroke="#089981" stroke-width="1.3" opacity="0.55"/>
<rect x="317.64" y="422.9" width="2.3" height="5.8" fill="#089981"/>
<line x1="321.96" y1="422.0" x2="321.96" y2="441.8" stroke="#f23645" stroke-width="1.3" opacity="0.55"/>
<rect x="320.81" y="422.9" width="2.3" height="9.0" fill="#f23645"/>
<line x1="325.13" y1="421.8" x2="325.13" y2="433.9" stroke="#089981" stroke-width="1.3" opacity="0.55"/>
<rect x="323.98" y="422.9" width="2.3" height="9.4" fill="#089981"/>
<line x1="328.30" y1="411.3" x2="328.30" y2="431.2" stroke="#f23645" stroke-width="1.3" opacity="0.55"/>
<rect x="327.15" y="421.8" width="2.3" height="6.3" fill="#f23645"/>
<line x1="331.47" y1="419.2" x2="331.47" y2="439.4" stroke="#089981" stroke-width="1.3" opacity="0.55"/>
<rect x="330.32" y="420.8" width="2.3" height="7.3" fill="#089981"/>
<line x1="334.64" y1="420.5" x2="334.64" y2="458.0" stroke="#f23645" stroke-width="1.3" opacity="0.55"/>
<rect x="333.49" y="420.8" width="2.3" height="28.9" fill="#f23645"/>
<line x1="337.81" y1="437.8" x2="337.81" y2="458.7" stroke="#089981" stroke-width="1.3" opacity="0.55"/>
<rect x="336.67" y="447.3" width="2.3" height="2.1" fill="#089981"/>
<line x1="340.99" y1="442.9" x2="340.99" y2="467.7" stroke="#f23645" stroke-width="1.3" opacity="0.55"/>
<rect x="339.84" y="447.0" width="2.3" height="14.4" fill="#f23645"/>
<line x1="344.16" y1="423.6" x2="344.16" y2="462.3" stroke="#089981" stroke-width="1.3" opacity="0.55"/>
<rect x="343.01" y="432.0" width="2.3" height="29.4" fill="#089981"/>
<line x1="347.33" y1="426.0" x2="347.33" y2="443.4" stroke="#f23645" stroke-width="1.3" opacity="0.55"/>
<rect x="346.18" y="432.0" width="2.3" height="4.3" fill="#f23645"/>
<line x1="350.50" y1="404.4" x2="350.50" y2="437.8" stroke="#089981" stroke-width="1.3" opacity="0.55"/>
<rect x="349.35" y="411.8" width="2.3" height="25.2" fill="#089981"/>
<line x1="353.67" y1="407.0" x2="353.67" y2="429.2" stroke="#f23645" stroke-width="1.3" opacity="0.55"/>
<rect x="352.52" y="411.3" width="2.3" height="5.7" fill="#f23645"/>
<line x1="356.84" y1="393.7" x2="356.84" y2="424.4" stroke="#089981" stroke-width="1.3" opacity="0.55"/>
<rect x="355.69" y="408.7" width="2.3" height="8.3" fill="#089981"/>
<line x1="360.01" y1="379.2" x2="360.01" y2="409.8" stroke="#089981" stroke-width="1.3" opacity="0.55"/>
<rect x="358.86" y="388.1" width="2.3" height="21.3" fill="#089981"/>
<line x1="363.18" y1="387.8" x2="363.18" y2="423.6" stroke="#f23645" stroke-width="1.3" opacity="0.55"/>
<rect x="362.03" y="388.1" width="2.3" height="32.7" fill="#f23645"/>
<line x1="366.35" y1="415.0" x2="366.35" y2="459.7" stroke="#f23645" stroke-width="1.3" opacity="0.55"/>
<rect x="365.20" y="420.2" width="2.3" height="17.6" fill="#f23645"/>
<line x1="369.52" y1="432.3" x2="369.52" y2="468.6" stroke="#f23645" stroke-width="1.3" opacity="0.55"/>
<rect x="368.37" y="437.0" width="2.3" height="6.4" fill="#f23645"/>
<line x1="372.69" y1="433.1" x2="372.69" y2="457.0" stroke="#f23645" stroke-width="1.3" opacity="0.55"/>
<rect x="371.54" y="442.3" width="2.3" height="2.2" fill="#f23645"/>
<line x1="375.86" y1="443.4" x2="375.86" y2="464.5" stroke="#f23645" stroke-width="1.3" opacity="0.55"/>
<rect x="374.71" y="443.8" width="2.3" height="13.2" fill="#f23645"/>
<line x1="379.03" y1="455.2" x2="379.03" y2="478.4" stroke="#f23645" stroke-width="1.3" opacity="0.55"/>
<rect x="377.88" y="456.0" width="2.3" height="18.5" fill="#f23645"/>
<line x1="382.20" y1="454.4" x2="382.20" y2="475.2" stroke="#089981" stroke-width="1.3" opacity="0.55"/>
<rect x="381.05" y="461.0" width="2.3" height="13.5" fill="#089981"/>
<line x1="385.37" y1="447.3" x2="385.37" y2="472.9" stroke="#089981" stroke-width="1.3" opacity="0.55"/>
<rect x="384.22" y="456.0" width="2.3" height="5.0" fill="#089981"/>
<line x1="388.54" y1="412.9" x2="388.54" y2="462.6" stroke="#089981" stroke-width="1.3" opacity="0.55"/>
<rect x="387.39" y="423.6" width="2.3" height="33.0" fill="#089981"/>
<line x1="391.71" y1="406.6" x2="391.71" y2="436.3" stroke="#f23645" stroke-width="1.3" opacity="0.55"/>
<rect x="390.56" y="423.6" width="2.3" height="10.3" fill="#f23645"/>
<line x1="394.88" y1="429.2" x2="394.88" y2="459.8" stroke="#f23645" stroke-width="1.3" opacity="0.55"/>
<rect x="393.73" y="433.1" width="2.3" height="16.6" fill="#f23645"/>
<line x1="398.05" y1="445.0" x2="398.05" y2="527.0" stroke="#f23645" stroke-width="1.3" opacity="0.55"/>
<rect x="396.90" y="448.9" width="2.3" height="7.7" fill="#f23645"/>
<line x1="401.22" y1="441.8" x2="401.22" y2="475.0" stroke="#f23645" stroke-width="1.3" opacity="0.55"/>
<rect x="400.07" y="456.0" width="2.3" height="18.0" fill="#f23645"/>
<line x1="404.39" y1="411.8" x2="404.39" y2="476.0" stroke="#089981" stroke-width="1.3" opacity="0.55"/>
<rect x="403.24" y="445.0" width="2.3" height="27.9" fill="#089981"/>
<line x1="407.56" y1="432.3" x2="407.56" y2="467.7" stroke="#f23645" stroke-width="1.3" opacity="0.55"/>
<rect x="406.41" y="445.0" width="2.3" height="22.0" fill="#f23645"/>
<line x1="410.73" y1="442.6" x2="410.73" y2="479.7" stroke="#089981" stroke-width="1.3" opacity="0.55"/>
<rect x="409.58" y="455.3" width="2.3" height="11.7" fill="#089981"/>
<line x1="413.90" y1="396.8" x2="413.90" y2="457.6" stroke="#089981" stroke-width="1.3" opacity="0.55"/>
<rect x="412.75" y="441.0" width="2.3" height="15.0" fill="#089981"/>
<line x1="417.08" y1="426.0" x2="417.08" y2="461.0" stroke="#f23645" stroke-width="1.3" opacity="0.55"/>
<rect x="415.93" y="441.0" width="2.3" height="19.7" fill="#f23645"/>
<line x1="420.25" y1="416.5" x2="420.25" y2="467.0" stroke="#089981" stroke-width="1.3" opacity="0.55"/>
<rect x="419.10" y="427.6" width="2.3" height="33.1" fill="#089981"/>
<line x1="423.42" y1="417.3" x2="423.42" y2="459.2" stroke="#f23645" stroke-width="1.3" opacity="0.55"/>
<rect x="422.27" y="427.6" width="2.3" height="31.1" fill="#f23645"/>
<line x1="426.59" y1="456.3" x2="426.59" y2="493.9" stroke="#f23645" stroke-width="1.3" opacity="0.55"/>
<rect x="425.44" y="457.6" width="2.3" height="13.2" fill="#f23645"/>
<line x1="429.76" y1="447.3" x2="429.76" y2="474.0" stroke="#089981" stroke-width="1.3" opacity="0.55"/>
<rect x="428.61" y="454.4" width="2.3" height="16.4" fill="#089981"/>
<line x1="432.93" y1="401.9" x2="432.93" y2="468.9" stroke="#089981" stroke-width="1.3" opacity="0.55"/>
<rect x="431.78" y="428.1" width="2.3" height="26.3" fill="#089981"/>
<line x1="436.10" y1="423.6" x2="436.10" y2="456.0" stroke="#f23645" stroke-width="1.3" opacity="0.55"/>
<rect x="434.95" y="427.6" width="2.3" height="24.4" fill="#f23645"/>
<line x1="439.27" y1="437.8" x2="439.27" y2="468.6" stroke="#089981" stroke-width="1.3" opacity="0.55"/>
<rect x="438.12" y="442.3" width="2.3" height="9.0" fill="#089981"/>
<line x1="442.44" y1="419.2" x2="442.44" y2="444.2" stroke="#089981" stroke-width="1.3" opacity="0.55"/>
<rect x="441.29" y="427.6" width="2.3" height="15.8" fill="#089981"/>
<line x1="445.61" y1="373.5" x2="445.61" y2="430.0" stroke="#089981" stroke-width="1.3" opacity="0.55"/>
<rect x="444.46" y="388.9" width="2.3" height="40.3" fill="#089981"/>
<line x1="448.78" y1="373.5" x2="448.78" y2="415.8" stroke="#f23645" stroke-width="1.3" opacity="0.55"/>
<rect x="447.63" y="388.9" width="2.3" height="10.8" fill="#f23645"/>
<line x1="451.95" y1="389.7" x2="451.95" y2="423.6" stroke="#f23645" stroke-width="1.3" opacity="0.55"/>
<rect x="450.80" y="398.1" width="2.3" height="14.8" fill="#f23645"/>
<line x1="455.12" y1="381.8" x2="455.12" y2="416.5" stroke="#089981" stroke-width="1.3" opacity="0.55"/>
<rect x="453.97" y="399.2" width="2.3" height="13.4" fill="#089981"/>
<line x1="458.29" y1="381.8" x2="458.29" y2="414.2" stroke="#f23645" stroke-width="1.3" opacity="0.55"/>
<rect x="457.14" y="398.7" width="2.3" height="7.6" fill="#f23645"/>
<line x1="461.46" y1="388.7" x2="461.46" y2="423.9" stroke="#f23645" stroke-width="1.3" opacity="0.55"/>
<rect x="460.31" y="405.0" width="2.3" height="3.9" fill="#f23645"/>
<line x1="464.63" y1="340.3" x2="464.63" y2="424.7" stroke="#089981" stroke-width="1.3" opacity="0.55"/>
<rect x="463.48" y="374.2" width="2.3" height="34.7" fill="#089981"/>
<line x1="467.80" y1="356.0" x2="467.80" y2="391.2" stroke="#089981" stroke-width="1.3" opacity="0.55"/>
<rect x="466.65" y="372.3" width="2.3" height="2.7" fill="#089981"/>
<line x1="470.97" y1="360.8" x2="470.97" y2="384.4" stroke="#089981" stroke-width="1.3" opacity="0.55"/>
<rect x="469.82" y="371.8" width="2.3" height="2.4" fill="#089981"/>
<line x1="474.14" y1="366.6" x2="474.14" y2="405.0" stroke="#f23645" stroke-width="1.3" opacity="0.55"/>
<rect x="472.99" y="371.8" width="2.3" height="28.4" fill="#f23645"/>
<line x1="477.31" y1="390.0" x2="477.31" y2="411.7" stroke="#f23645" stroke-width="1.3" opacity="0.55"/>
<rect x="476.16" y="399.4" width="2.3" height="5.6" fill="#f23645"/>
<line x1="480.48" y1="370.7" x2="480.48" y2="411.7" stroke="#089981" stroke-width="1.3" opacity="0.55"/>
<rect x="479.33" y="383.3" width="2.3" height="22.1" fill="#089981"/>
<line x1="483.65" y1="367.9" x2="483.65" y2="393.9" stroke="#089981" stroke-width="1.3" opacity="0.55"/>
<rect x="482.50" y="375.8" width="2.3" height="7.8" fill="#089981"/>
<line x1="486.82" y1="316.0" x2="486.82" y2="383.6" stroke="#089981" stroke-width="1.3" opacity="0.55"/>
<rect x="485.67" y="329.9" width="2.3" height="47.1" fill="#089981"/>
<line x1="490.00" y1="320.5" x2="490.00" y2="369.2" stroke="#f23645" stroke-width="1.3" opacity="0.55"/>
<rect x="488.85" y="329.9" width="2.3" height="38.8" fill="#f23645"/>
<line x1="493.17" y1="342.6" x2="493.17" y2="373.4" stroke="#089981" stroke-width="1.3" opacity="0.55"/>
<rect x="492.02" y="347.0" width="2.3" height="21.7" fill="#089981"/>
<line x1="496.34" y1="324.4" x2="496.34" y2="350.2" stroke="#089981" stroke-width="1.3" opacity="0.55"/>
<rect x="495.19" y="340.3" width="2.3" height="7.1" fill="#089981"/>
<line x1="499.51" y1="339.5" x2="499.51" y2="359.7" stroke="#f23645" stroke-width="1.3" opacity="0.55"/>
<rect x="498.36" y="340.3" width="2.3" height="13.1" fill="#f23645"/>
<line x1="502.68" y1="326.8" x2="502.68" y2="364.4" stroke="#089981" stroke-width="1.3" opacity="0.55"/>
<rect x="501.53" y="330.7" width="2.3" height="22.7" fill="#089981"/>
<line x1="505.85" y1="258.1" x2="505.85" y2="331.2" stroke="#089981" stroke-width="1.3" opacity="0.55"/>
<rect x="504.70" y="288.1" width="2.3" height="42.6" fill="#089981"/>
<line x1="509.02" y1="235.2" x2="509.02" y2="289.2" stroke="#089981" stroke-width="1.3" opacity="0.55"/>
<rect x="507.87" y="243.9" width="2.3" height="45.0" fill="#089981"/>
<line x1="512.19" y1="241.2" x2="512.19" y2="279.4" stroke="#f23645" stroke-width="1.3" opacity="0.55"/>
<rect x="511.04" y="243.9" width="2.3" height="33.2" fill="#f23645"/>
<line x1="515.36" y1="276.0" x2="515.36" y2="326.5" stroke="#f23645" stroke-width="1.3" opacity="0.55"/>
<rect x="514.21" y="276.6" width="2.3" height="44.2" fill="#f23645"/>
<line x1="518.53" y1="317.3" x2="518.53" y2="345.5" stroke="#f23645" stroke-width="1.3" opacity="0.55"/>
<rect x="517.38" y="320.2" width="2.3" height="6.6" fill="#f23645"/>
<line x1="521.70" y1="287.0" x2="521.70" y2="345.0" stroke="#089981" stroke-width="1.3" opacity="0.55"/>
<rect x="520.55" y="313.8" width="2.3" height="12.7" fill="#089981"/>
<line x1="524.87" y1="180.0" x2="524.87" y2="347.7" stroke="#089981" stroke-width="1.3" opacity="0.55"/>
<rect x="523.72" y="190.7" width="2.3" height="123.5" fill="#089981"/>
<line x1="528.04" y1="165.0" x2="528.04" y2="233.6" stroke="#f23645" stroke-width="1.3" opacity="0.55"/>
<rect x="526.89" y="190.7" width="2.3" height="11.1" fill="#f23645"/>
<line x1="531.21" y1="182.3" x2="531.21" y2="224.2" stroke="#f23645" stroke-width="1.3" opacity="0.55"/>
<rect x="530.06" y="200.5" width="2.3" height="12.6" fill="#f23645"/>
<line x1="534.38" y1="202.1" x2="534.38" y2="266.0" stroke="#f23645" stroke-width="1.3" opacity="0.55"/>
<rect x="533.23" y="212.3" width="2.3" height="44.3" fill="#f23645"/>
<line x1="537.55" y1="253.4" x2="537.55" y2="320.5" stroke="#f23645" stroke-width="1.3" opacity="0.55"/>
<rect x="536.40" y="255.8" width="2.3" height="57.6" fill="#f23645"/>
<line x1="540.72" y1="307.8" x2="540.72" y2="353.7" stroke="#f23645" stroke-width="1.3" opacity="0.55"/>
<rect x="539.57" y="312.6" width="2.3" height="26.1" fill="#f23645"/>
<line x1="543.89" y1="308.2" x2="543.89" y2="339.5" stroke="#089981" stroke-width="1.3" opacity="0.55"/>
<rect x="542.74" y="323.6" width="2.3" height="15.1" fill="#089981"/>
<line x1="547.06" y1="308.2" x2="547.06" y2="357.6" stroke="#f23645" stroke-width="1.3" opacity="0.55"/>
<rect x="545.91" y="322.8" width="2.3" height="19.8" fill="#f23645"/>
<line x1="550.23" y1="327.6" x2="550.23" y2="354.5" stroke="#089981" stroke-width="1.3" opacity="0.55"/>
<rect x="549.08" y="340.3" width="2.3" height="2.7" fill="#089981"/>
<line x1="553.40" y1="329.2" x2="553.40" y2="342.6" stroke="#089981" stroke-width="1.3" opacity="0.55"/>
<rect x="552.25" y="334.2" width="2.3" height="7.6" fill="#089981"/>
<line x1="556.57" y1="315.4" x2="556.57" y2="345.0" stroke="#089981" stroke-width="1.3" opacity="0.55"/>
<rect x="555.42" y="328.4" width="2.3" height="6.3" fill="#089981"/>
<line x1="559.74" y1="321.3" x2="559.74" y2="339.5" stroke="#089981" stroke-width="1.3" opacity="0.55"/>
<rect x="558.59" y="322.8" width="2.3" height="5.6" fill="#089981"/>
<line x1="562.91" y1="320.8" x2="562.91" y2="356.8" stroke="#f23645" stroke-width="1.3" opacity="0.55"/>
<rect x="561.76" y="322.8" width="2.3" height="23.0" fill="#f23645"/>
<line x1="566.09" y1="337.0" x2="566.09" y2="357.1" stroke="#f23645" stroke-width="1.3" opacity="0.55"/>
<rect x="564.94" y="345.0" width="2.3" height="11.0" fill="#f23645"/>
<line x1="569.26" y1="324.4" x2="569.26" y2="362.3" stroke="#089981" stroke-width="1.3" opacity="0.55"/>
<rect x="568.11" y="329.2" width="2.3" height="31.6" fill="#089981"/>
<line x1="572.43" y1="320.5" x2="572.43" y2="367.9" stroke="#f23645" stroke-width="1.3" opacity="0.55"/>
<rect x="571.28" y="329.2" width="2.3" height="35.2" fill="#f23645"/>
<line x1="575.60" y1="339.8" x2="575.60" y2="365.0" stroke="#089981" stroke-width="1.3" opacity="0.55"/>
<rect x="574.45" y="345.0" width="2.3" height="19.4" fill="#089981"/>
<line x1="578.77" y1="343.4" x2="578.77" y2="371.8" stroke="#f23645" stroke-width="1.3" opacity="0.55"/>
<rect x="577.62" y="345.0" width="2.3" height="14.2" fill="#f23645"/>
<line x1="581.94" y1="354.5" x2="581.94" y2="375.8" stroke="#f23645" stroke-width="1.3" opacity="0.55"/>
<rect x="580.79" y="357.6" width="2.3" height="8.4" fill="#f23645"/>
<line x1="585.11" y1="349.7" x2="585.11" y2="373.9" stroke="#f23645" stroke-width="1.3" opacity="0.55"/>
<rect x="583.96" y="365.0" width="2.3" height="6.0" fill="#f23645"/>
<line x1="588.28" y1="353.7" x2="588.28" y2="373.9" stroke="#089981" stroke-width="1.3" opacity="0.55"/>
<rect x="587.13" y="357.1" width="2.3" height="13.9" fill="#089981"/>
<line x1="591.45" y1="350.5" x2="591.45" y2="376.5" stroke="#f23645" stroke-width="1.3" opacity="0.55"/>
<rect x="590.30" y="357.6" width="2.3" height="15.0" fill="#f23645"/>
<line x1="594.62" y1="330.7" x2="594.62" y2="381.3" stroke="#089981" stroke-width="1.3" opacity="0.55"/>
<rect x="593.47" y="337.9" width="2.3" height="35.0" fill="#089981"/>
<line x1="597.79" y1="259.7" x2="597.79" y2="343.4" stroke="#089981" stroke-width="1.3" opacity="0.55"/>
<rect x="596.64" y="316.1" width="2.3" height="21.8" fill="#089981"/>
<line x1="600.96" y1="283.4" x2="600.96" y2="333.9" stroke="#f23645" stroke-width="1.3" opacity="0.55"/>
<rect x="599.81" y="316.1" width="2.3" height="1.2" fill="#f23645"/>
<line x1="604.13" y1="311.8" x2="604.13" y2="373.9" stroke="#f23645" stroke-width="1.3" opacity="0.55"/>
<rect x="602.98" y="317.0" width="2.3" height="29.6" fill="#f23645"/>
<line x1="607.30" y1="321.3" x2="607.30" y2="352.0" stroke="#089981" stroke-width="1.3" opacity="0.55"/>
<rect x="606.15" y="331.5" width="2.3" height="15.1" fill="#089981"/>
<line x1="610.47" y1="288.1" x2="610.47" y2="333.0" stroke="#089981" stroke-width="1.3" opacity="0.55"/>
<rect x="609.32" y="299.2" width="2.3" height="32.0" fill="#089981"/>
<line x1="613.64" y1="270.7" x2="613.64" y2="300.2" stroke="#089981" stroke-width="1.3" opacity="0.55"/>
<rect x="612.49" y="280.2" width="2.3" height="19.5" fill="#089981"/>
<line x1="616.81" y1="278.6" x2="616.81" y2="329.2" stroke="#f23645" stroke-width="1.3" opacity="0.55"/>
<rect x="615.66" y="280.2" width="2.3" height="43.5" fill="#f23645"/>
<line x1="619.98" y1="311.8" x2="619.98" y2="331.6" stroke="#089981" stroke-width="1.3" opacity="0.55"/>
<rect x="618.83" y="318.1" width="2.3" height="5.6" fill="#089981"/>
<line x1="623.15" y1="312.3" x2="623.15" y2="326.8" stroke="#089981" stroke-width="1.3" opacity="0.55"/>
<rect x="622.00" y="315.8" width="2.3" height="3.1" fill="#089981"/>
<line x1="626.32" y1="300.7" x2="626.32" y2="331.6" stroke="#f23645" stroke-width="1.3" opacity="0.55"/>
<rect x="625.17" y="315.8" width="2.3" height="7.1" fill="#f23645"/>
<line x1="629.49" y1="316.6" x2="629.49" y2="345.8" stroke="#f23645" stroke-width="1.3" opacity="0.55"/>
<rect x="628.34" y="322.1" width="2.3" height="17.3" fill="#f23645"/>
<line x1="632.66" y1="335.5" x2="632.66" y2="348.9" stroke="#f23645" stroke-width="1.3" opacity="0.55"/>
<rect x="631.51" y="339.1" width="2.3" height="2.7" fill="#f23645"/>
<line x1="635.83" y1="340.2" x2="635.83" y2="361.5" stroke="#f23645" stroke-width="1.3" opacity="0.55"/>
<rect x="634.68" y="341.0" width="2.3" height="15.8" fill="#f23645"/>
<line x1="639.00" y1="349.7" x2="639.00" y2="381.3" stroke="#f23645" stroke-width="1.3" opacity="0.55"/>
<rect x="637.85" y="356.0" width="2.3" height="20.1" fill="#f23645"/>
<line x1="642.17" y1="363.9" x2="642.17" y2="382.0" stroke="#089981" stroke-width="1.3" opacity="0.55"/>
<rect x="641.02" y="371.8" width="2.3" height="4.7" fill="#089981"/>
<line x1="645.35" y1="358.4" x2="645.35" y2="383.6" stroke="#f23645" stroke-width="1.3" opacity="0.55"/>
<rect x="644.20" y="371.3" width="2.3" height="11.5" fill="#f23645"/>
<line x1="648.52" y1="374.2" x2="648.52" y2="394.7" stroke="#089981" stroke-width="1.3" opacity="0.55"/>
<rect x="647.37" y="380.5" width="2.3" height="2.3" fill="#089981"/>
<line x1="651.69" y1="373.4" x2="651.69" y2="391.2" stroke="#089981" stroke-width="1.3" opacity="0.55"/>
<rect x="650.54" y="375.7" width="2.3" height="5.1" fill="#089981"/>
<line x1="654.86" y1="359.2" x2="654.86" y2="382.8" stroke="#089981" stroke-width="1.3" opacity="0.55"/>
<rect x="653.71" y="363.9" width="2.3" height="12.2" fill="#089981"/>
<line x1="658.03" y1="346.5" x2="658.03" y2="369.4" stroke="#089981" stroke-width="1.3" opacity="0.55"/>
<rect x="656.88" y="352.9" width="2.3" height="11.5" fill="#089981"/>
<line x1="661.20" y1="326.5" x2="661.20" y2="365.5" stroke="#089981" stroke-width="1.3" opacity="0.55"/>
<rect x="660.05" y="346.5" width="2.3" height="6.8" fill="#089981"/>
<line x1="664.37" y1="319.3" x2="664.37" y2="356.8" stroke="#089981" stroke-width="1.3" opacity="0.55"/>
<rect x="663.22" y="322.9" width="2.3" height="24.4" fill="#089981"/>
<line x1="667.54" y1="312.3" x2="667.54" y2="332.3" stroke="#f23645" stroke-width="1.3" opacity="0.55"/>
<rect x="666.39" y="322.9" width="2.3" height="7.9" fill="#f23645"/>
<line x1="670.71" y1="315.0" x2="670.71" y2="336.3" stroke="#089981" stroke-width="1.3" opacity="0.55"/>
<rect x="669.56" y="328.4" width="2.3" height="1.6" fill="#089981"/>
<line x1="673.88" y1="315.8" x2="673.88" y2="361.5" stroke="#f23645" stroke-width="1.3" opacity="0.55"/>
<rect x="672.73" y="328.4" width="2.3" height="18.9" fill="#f23645"/>
<line x1="677.05" y1="317.4" x2="677.05" y2="397.8" stroke="#f23645" stroke-width="1.3" opacity="0.55"/>
<rect x="675.90" y="346.5" width="2.3" height="39.5" fill="#f23645"/>
<line x1="680.22" y1="341.0" x2="680.22" y2="393.9" stroke="#089981" stroke-width="1.3" opacity="0.55"/>
<rect x="679.07" y="354.4" width="2.3" height="31.6" fill="#089981"/>
<line x1="683.39" y1="335.5" x2="683.39" y2="381.3" stroke="#089981" stroke-width="1.3" opacity="0.55"/>
<rect x="682.24" y="346.5" width="2.3" height="10.3" fill="#089981"/>
<line x1="686.56" y1="339.4" x2="686.56" y2="361.5" stroke="#f23645" stroke-width="1.3" opacity="0.55"/>
<rect x="685.41" y="346.5" width="2.3" height="6.4" fill="#f23645"/>
<line x1="689.73" y1="348.1" x2="689.73" y2="378.6" stroke="#f23645" stroke-width="1.3" opacity="0.55"/>
<rect x="688.58" y="352.1" width="2.3" height="26.0" fill="#f23645"/>
<line x1="692.90" y1="347.3" x2="692.90" y2="383.6" stroke="#089981" stroke-width="1.3" opacity="0.55"/>
<rect x="691.75" y="353.6" width="2.3" height="24.5" fill="#089981"/>
<line x1="696.07" y1="352.9" x2="696.07" y2="378.9" stroke="#f23645" stroke-width="1.3" opacity="0.55"/>
<rect x="694.92" y="356.8" width="2.3" height="20.5" fill="#f23645"/>
<line x1="699.24" y1="363.9" x2="699.24" y2="378.6" stroke="#089981" stroke-width="1.3" opacity="0.55"/>
<rect x="698.09" y="369.4" width="2.3" height="8.7" fill="#089981"/>
<line x1="702.41" y1="353.6" x2="702.41" y2="375.0" stroke="#089981" stroke-width="1.3" opacity="0.55"/>
<rect x="701.26" y="355.5" width="2.3" height="15.5" fill="#089981"/>
<line x1="705.58" y1="323.7" x2="705.58" y2="356.8" stroke="#089981" stroke-width="1.3" opacity="0.55"/>
<rect x="704.43" y="338.7" width="2.3" height="17.3" fill="#089981"/>
<line x1="708.75" y1="220.3" x2="708.75" y2="345.8" stroke="#089981" stroke-width="1.3" opacity="0.55"/>
<rect x="707.60" y="274.4" width="2.3" height="64.7" fill="#089981"/>
<line x1="711.92" y1="243.5" x2="711.92" y2="280.2" stroke="#089981" stroke-width="1.3" opacity="0.55"/>
<rect x="710.77" y="252.6" width="2.3" height="22.1" fill="#089981"/>
<line x1="715.09" y1="249.8" x2="715.09" y2="292.8" stroke="#f23645" stroke-width="1.3" opacity="0.55"/>
<rect x="713.94" y="251.8" width="2.3" height="37.1" fill="#f23645"/>
<line x1="718.26" y1="250.7" x2="718.26" y2="291.7" stroke="#089981" stroke-width="1.3" opacity="0.55"/>
<rect x="717.12" y="256.1" width="2.3" height="32.8" fill="#089981"/>
<line x1="721.44" y1="250.7" x2="721.44" y2="270.8" stroke="#f23645" stroke-width="1.3" opacity="0.55"/>
<rect x="720.29" y="256.1" width="2.3" height="4.1" fill="#f23645"/>
<line x1="724.61" y1="212.4" x2="724.61" y2="270.8" stroke="#089981" stroke-width="1.3" opacity="0.55"/>
<rect x="723.46" y="223.9" width="2.3" height="36.3" fill="#089981"/>
<line x1="727.78" y1="214.4" x2="727.78" y2="256.1" stroke="#f23645" stroke-width="1.3" opacity="0.55"/>
<rect x="726.63" y="223.4" width="2.3" height="30.8" fill="#f23645"/>
<line x1="730.95" y1="229.7" x2="730.95" y2="258.1" stroke="#089981" stroke-width="1.3" opacity="0.55"/>
<rect x="729.80" y="247.9" width="2.3" height="6.0" fill="#089981"/>
<line x1="734.12" y1="191.8" x2="734.12" y2="253.9" stroke="#089981" stroke-width="1.3" opacity="0.55"/>
<rect x="732.97" y="214.5" width="2.3" height="33.7" fill="#089981"/>
<line x1="737.29" y1="183.1" x2="737.29" y2="216.0" stroke="#089981" stroke-width="1.3" opacity="0.55"/>
<rect x="736.14" y="208.0" width="2.3" height="7.3" fill="#089981"/>
<line x1="740.46" y1="178.1" x2="740.46" y2="209.2" stroke="#089981" stroke-width="1.3" opacity="0.55"/>
<rect x="739.31" y="191.0" width="2.3" height="17.7" fill="#089981"/>
<line x1="743.63" y1="189.7" x2="743.63" y2="235.0" stroke="#f23645" stroke-width="1.3" opacity="0.55"/>
<rect x="742.48" y="191.8" width="2.3" height="42.2" fill="#f23645"/>
<line x1="746.80" y1="173.6" x2="746.80" y2="234.5" stroke="#089981" stroke-width="1.3" opacity="0.55"/>
<rect x="745.65" y="192.9" width="2.3" height="40.8" fill="#089981"/>
<line x1="749.97" y1="146.0" x2="749.97" y2="201.3" stroke="#089981" stroke-width="1.3" opacity="0.55"/>
<rect x="748.82" y="162.3" width="2.3" height="31.1" fill="#089981"/>
<line x1="753.14" y1="135.0" x2="753.14" y2="230.2" stroke="#f23645" stroke-width="1.3" opacity="0.55"/>
<rect x="751.99" y="162.3" width="2.3" height="62.7" fill="#f23645"/>
<line x1="756.31" y1="206.0" x2="756.31" y2="273.1" stroke="#f23645" stroke-width="1.3" opacity="0.55"/>
<rect x="755.16" y="224.2" width="2.3" height="42.6" fill="#f23645"/>
<line x1="759.48" y1="248.2" x2="759.48" y2="292.0" stroke="#089981" stroke-width="1.3" opacity="0.55"/>
<rect x="758.33" y="263.6" width="2.3" height="3.2" fill="#089981"/>
<line x1="762.65" y1="255.0" x2="762.65" y2="317.0" stroke="#f23645" stroke-width="1.3" opacity="0.55"/>
<rect x="761.50" y="265.2" width="2.3" height="46.2" fill="#f23645"/>
<line x1="765.82" y1="289.7" x2="765.82" y2="322.9" stroke="#089981" stroke-width="1.3" opacity="0.55"/>
<rect x="764.67" y="299.9" width="2.3" height="11.1" fill="#089981"/>
<line x1="768.99" y1="285.3" x2="768.99" y2="304.7" stroke="#089981" stroke-width="1.3" opacity="0.55"/>
<rect x="767.84" y="288.1" width="2.3" height="13.9" fill="#089981"/>
<line x1="772.16" y1="278.7" x2="772.16" y2="298.4" stroke="#089981" stroke-width="1.3" opacity="0.55"/>
<rect x="771.01" y="286.2" width="2.3" height="4.3" fill="#089981"/>
<line x1="775.33" y1="274.7" x2="775.33" y2="302.0" stroke="#f23645" stroke-width="1.3" opacity="0.55"/>
<rect x="774.18" y="285.8" width="2.3" height="5.8" fill="#f23645"/>
<line x1="778.50" y1="288.5" x2="778.50" y2="322.9" stroke="#f23645" stroke-width="1.3" opacity="0.55"/>
<rect x="777.35" y="290.5" width="2.3" height="18.9" fill="#f23645"/>
<line x1="781.67" y1="292.1" x2="781.67" y2="312.6" stroke="#089981" stroke-width="1.3" opacity="0.55"/>
<rect x="780.52" y="296.3" width="2.3" height="13.1" fill="#089981"/>
<line x1="784.84" y1="294.4" x2="784.84" y2="315.8" stroke="#f23645" stroke-width="1.3" opacity="0.55"/>
<rect x="783.69" y="296.3" width="2.3" height="14.7" fill="#f23645"/>
<line x1="788.01" y1="290.0" x2="788.01" y2="315.8" stroke="#089981" stroke-width="1.3" opacity="0.55"/>
<rect x="786.86" y="292.6" width="2.3" height="18.4" fill="#089981"/>
<line x1="791.18" y1="285.8" x2="791.18" y2="300.8" stroke="#f23645" stroke-width="1.3" opacity="0.55"/>
<rect x="790.03" y="292.6" width="2.3" height="6.6" fill="#f23645"/>
<line x1="794.36" y1="283.1" x2="794.36" y2="301.5" stroke="#089981" stroke-width="1.3" opacity="0.55"/>
<rect x="793.21" y="290.5" width="2.3" height="8.7" fill="#089981"/>
<line x1="797.53" y1="281.0" x2="797.53" y2="304.2" stroke="#f23645" stroke-width="1.3" opacity="0.55"/>
<rect x="796.38" y="290.5" width="2.3" height="9.5" fill="#f23645"/>
<line x1="800.70" y1="295.7" x2="800.70" y2="311.5" stroke="#f23645" stroke-width="1.3" opacity="0.55"/>
<rect x="799.55" y="299.2" width="2.3" height="9.1" fill="#f23645"/>
<line x1="803.87" y1="307.8" x2="803.87" y2="342.6" stroke="#f23645" stroke-width="1.3" opacity="0.55"/>
<rect x="802.72" y="308.3" width="2.3" height="7.5" fill="#f23645"/>
<line x1="807.04" y1="300.0" x2="807.04" y2="317.3" stroke="#089981" stroke-width="1.3" opacity="0.55"/>
<rect x="805.89" y="310.2" width="2.3" height="6.3" fill="#089981"/>
<line x1="810.21" y1="302.3" x2="810.21" y2="316.5" stroke="#f23645" stroke-width="1.3" opacity="0.55"/>
<rect x="809.06" y="310.5" width="2.3" height="3.2" fill="#f23645"/>
<line x1="813.38" y1="301.5" x2="813.38" y2="326.3" stroke="#f23645" stroke-width="1.3" opacity="0.55"/>
<rect x="812.23" y="313.0" width="2.3" height="10.6" fill="#f23645"/>
<line x1="816.55" y1="321.3" x2="816.55" y2="330.7" stroke="#f23645" stroke-width="1.3" opacity="0.55"/>
<rect x="815.40" y="322.9" width="2.3" height="2.3" fill="#f23645"/>
<line x1="819.72" y1="313.7" x2="819.72" y2="325.7" stroke="#089981" stroke-width="1.3" opacity="0.55"/>
<rect x="818.57" y="315.8" width="2.3" height="9.4" fill="#089981"/>
<line x1="822.89" y1="311.0" x2="822.89" y2="329.2" stroke="#f23645" stroke-width="1.3" opacity="0.55"/>
<rect x="821.74" y="315.8" width="2.3" height="10.2" fill="#f23645"/>
<line x1="826.06" y1="310.2" x2="826.06" y2="328.4" stroke="#089981" stroke-width="1.3" opacity="0.55"/>
<rect x="824.91" y="317.8" width="2.3" height="8.2" fill="#089981"/>
<line x1="829.23" y1="314.2" x2="829.23" y2="330.7" stroke="#f23645" stroke-width="1.3" opacity="0.55"/>
<rect x="828.08" y="317.8" width="2.3" height="9.0" fill="#f23645"/>
<line x1="832.40" y1="318.1" x2="832.40" y2="328.4" stroke="#089981" stroke-width="1.3" opacity="0.55"/>
<rect x="831.25" y="322.1" width="2.3" height="4.7" fill="#089981"/>
<line x1="835.57" y1="313.7" x2="835.57" y2="332.0" stroke="#089981" stroke-width="1.3" opacity="0.55"/>
<rect x="834.42" y="314.2" width="2.3" height="9.0" fill="#089981"/>
<line x1="838.74" y1="312.6" x2="838.74" y2="327.3" stroke="#f23645" stroke-width="1.3" opacity="0.55"/>
<rect x="837.59" y="313.7" width="2.3" height="10.7" fill="#f23645"/>
<line x1="841.91" y1="315.3" x2="841.91" y2="327.6" stroke="#089981" stroke-width="1.3" opacity="0.55"/>
<rect x="840.76" y="318.9" width="2.3" height="5.8" fill="#089981"/>
<line x1="845.08" y1="318.6" x2="845.08" y2="324.1" stroke="#f23645" stroke-width="1.3" opacity="0.55"/>
<rect x="843.93" y="318.9" width="2.3" height="4.7" fill="#f23645"/>
<line x1="848.25" y1="310.2" x2="848.25" y2="326.0" stroke="#089981" stroke-width="1.3" opacity="0.55"/>
<rect x="847.10" y="312.6" width="2.3" height="10.3" fill="#089981"/>
<line x1="851.42" y1="297.9" x2="851.42" y2="319.4" stroke="#089981" stroke-width="1.3" opacity="0.55"/>
<rect x="850.27" y="305.5" width="2.3" height="7.9" fill="#089981"/>
<line x1="854.59" y1="300.0" x2="854.59" y2="309.4" stroke="#089981" stroke-width="1.3" opacity="0.55"/>
<rect x="853.44" y="303.1" width="2.3" height="4.8" fill="#089981"/>
<line x1="857.76" y1="268.0" x2="857.76" y2="304.7" stroke="#089981" stroke-width="1.3" opacity="0.55"/>
<rect x="856.61" y="273.9" width="2.3" height="29.7" fill="#089981"/>
<line x1="860.93" y1="264.5" x2="860.93" y2="286.0" stroke="#f23645" stroke-width="1.3" opacity="0.55"/>
<rect x="859.78" y="274.2" width="2.3" height="3.6" fill="#f23645"/>
<line x1="864.10" y1="269.2" x2="864.10" y2="286.8" stroke="#f23645" stroke-width="1.3" opacity="0.55"/>
<rect x="862.95" y="276.6" width="2.3" height="2.1" fill="#f23645"/>
<line x1="867.27" y1="233.9" x2="867.27" y2="279.0" stroke="#089981" stroke-width="1.3" opacity="0.55"/>
<rect x="866.12" y="245.5" width="2.3" height="33.1" fill="#089981"/>
<line x1="870.45" y1="231.8" x2="870.45" y2="258.3" stroke="#f23645" stroke-width="1.3" opacity="0.55"/>
<rect x="869.30" y="245.2" width="2.3" height="12.7" fill="#f23645"/>
<line x1="873.62" y1="238.1" x2="873.62" y2="258.0" stroke="#089981" stroke-width="1.3" opacity="0.55"/>
<rect x="872.47" y="241.3" width="2.3" height="16.2" fill="#089981"/>
<line x1="876.79" y1="229.8" x2="876.79" y2="252.4" stroke="#f23645" stroke-width="1.3" opacity="0.55"/>
<rect x="875.64" y="241.8" width="2.3" height="10.1" fill="#f23645"/>
<line x1="879.96" y1="245.2" x2="879.96" y2="276.8" stroke="#f23645" stroke-width="1.3" opacity="0.55"/>
<rect x="878.81" y="250.2" width="2.3" height="12.6" fill="#f23645"/>
<line x1="883.13" y1="256.6" x2="883.13" y2="274.4" stroke="#f23645" stroke-width="1.3" opacity="0.55"/>
<rect x="881.98" y="262.0" width="2.3" height="8.8" fill="#f23645"/>
<line x1="886.30" y1="252.9" x2="886.30" y2="271.3" stroke="#089981" stroke-width="1.3" opacity="0.55"/>
<rect x="885.15" y="254.0" width="2.3" height="16.8" fill="#089981"/>
<line x1="889.47" y1="237.0" x2="889.47" y2="254.4" stroke="#089981" stroke-width="1.3" opacity="0.55"/>
<rect x="888.32" y="248.7" width="2.3" height="5.3" fill="#089981"/>
<line x1="892.64" y1="239.6" x2="892.64" y2="250.3" stroke="#089981" stroke-width="1.3" opacity="0.55"/>
<rect x="891.49" y="244.0" width="2.3" height="5.1" fill="#089981"/>
<line x1="895.81" y1="231.2" x2="895.81" y2="251.0" stroke="#089981" stroke-width="1.3" opacity="0.55"/>
<rect x="894.66" y="235.0" width="2.3" height="10.0" fill="#089981"/>
<line x1="898.98" y1="218.1" x2="898.98" y2="248.4" stroke="#089981" stroke-width="1.3" opacity="0.55"/>
<rect x="897.83" y="221.9" width="2.3" height="13.0" fill="#089981"/>
<line x1="902.15" y1="203.3" x2="902.15" y2="245.9" stroke="#f23645" stroke-width="1.3" opacity="0.55"/>
<rect x="901.00" y="221.7" width="2.3" height="2.9" fill="#f23645"/>
<line x1="905.32" y1="218.1" x2="905.32" y2="254.7" stroke="#f23645" stroke-width="1.3" opacity="0.55"/>
<rect x="904.17" y="223.6" width="2.3" height="19.2" fill="#f23645"/>
<line x1="908.49" y1="225.8" x2="908.49" y2="248.4" stroke="#f23645" stroke-width="1.3" opacity="0.55"/>
<rect x="907.34" y="241.6" width="2.3" height="5.3" fill="#f23645"/>
<line x1="911.66" y1="238.9" x2="911.66" y2="266.0" stroke="#f23645" stroke-width="1.3" opacity="0.55"/>
<rect x="910.51" y="245.9" width="2.3" height="10.1" fill="#f23645"/>
<line x1="914.83" y1="220.8" x2="914.83" y2="257.0" stroke="#089981" stroke-width="1.3" opacity="0.55"/>
<rect x="913.68" y="235.8" width="2.3" height="20.5" fill="#089981"/>
<line x1="918.00" y1="230.1" x2="918.00" y2="265.9" stroke="#f23645" stroke-width="1.3" opacity="0.55"/>
<rect x="916.85" y="236.0" width="2.3" height="24.8" fill="#f23645"/>
<line x1="921.17" y1="247.6" x2="921.17" y2="262.9" stroke="#089981" stroke-width="1.3" opacity="0.55"/>
<rect x="920.02" y="254.7" width="2.3" height="6.0" fill="#089981"/>
<line x1="924.34" y1="223.5" x2="924.34" y2="261.0" stroke="#089981" stroke-width="1.3" opacity="0.55"/>
<rect x="923.19" y="240.5" width="2.3" height="15.0" fill="#089981"/>
<line x1="927.51" y1="202.9" x2="927.51" y2="247.7" stroke="#089981" stroke-width="1.3" opacity="0.55"/>
<rect x="926.36" y="211.8" width="2.3" height="29.0" fill="#089981"/>
<line x1="930.68" y1="99.1" x2="930.68" y2="224.4" stroke="#089981" stroke-width="1.3" opacity="0.55"/>
<rect x="929.53" y="128.9" width="2.3" height="83.5" fill="#089981"/>
<line x1="933.85" y1="120.3" x2="933.85" y2="175.8" stroke="#f23645" stroke-width="1.3" opacity="0.55"/>
<rect x="932.70" y="128.9" width="2.3" height="19.4" fill="#f23645"/>
<line x1="937.02" y1="120.3" x2="937.02" y2="160.7" stroke="#f23645" stroke-width="1.3" opacity="0.55"/>
<rect x="935.87" y="146.8" width="2.3" height="7.3" fill="#f23645"/>
<line x1="940.19" y1="143.0" x2="940.19" y2="178.7" stroke="#089981" stroke-width="1.3" opacity="0.55"/>
<rect x="939.04" y="151.9" width="2.3" height="1.9" fill="#089981"/>
<line x1="943.36" y1="146.2" x2="943.36" y2="186.5" stroke="#f23645" stroke-width="1.3" opacity="0.55"/>
<rect x="942.21" y="152.9" width="2.3" height="12.8" fill="#f23645"/>
<line x1="946.53" y1="148.2" x2="946.53" y2="172.6" stroke="#089981" stroke-width="1.3" opacity="0.55"/>
<rect x="945.38" y="148.7" width="2.3" height="17.0" fill="#089981"/>
<line x1="7" y1="149.5" x2="975" y2="149.5" stroke="#16806f" stroke-width="1" stroke-dasharray="1 1" opacity="0.72"/>
</g></svg>
<div class="pl" style="top:47.23px">1.4800</div><div class="pl" style="top:77.23px">1.4700</div><div class="pl" style="top:107.23px">1.4600</div><div class="pl" style="top:137.23px">1.4500</div><div class="pl" style="top:167.23px">1.4400</div><div class="pl" style="top:197.23px">1.4300</div><div class="pl" style="top:226.23px">1.4200</div><div class="pl" style="top:256.23px">1.4100</div><div class="pl" style="top:286.23px">1.4000</div><div class="pl" style="top:316.23px">1.3900</div><div class="pl" style="top:346.23px">1.3800</div><div class="pl" style="top:376.23px">1.3700</div><div class="pl" style="top:406.23px">1.3600</div><div class="pl" style="top:436.23px">1.3500</div><div class="pl" style="top:466.23px">1.3400</div><div class="pl" style="top:495.23px">1.3300</div><div class="pl" style="top:525.23px">1.3200</div><div class="pl" style="top:555.23px">1.3100</div>
<div class="xl" style="left:51.5px">5</div><div class="xl" style="left:127.6px">6</div><div class="xl" style="left:203.7px">7</div><div class="xl" style="left:279.8px">8</div><div class="xl b" style="left:355.9px">9</div><div class="xl" style="left:432.0px">10</div><div class="xl" style="left:508.0px">11</div><div class="xl" style="left:584.1px">12</div><div class="xl" style="left:660.2px">13</div><div class="xl" style="left:736.3px">14</div><div class="xl" style="left:812.4px">15</div><div class="xl b" style="left:888.5px">16</div>
<div id="last"><span>1.4482</span></div>
<div id="usdt"><span>USDT</span></div>
<span class="ls w" style="left:12.70px;transform:scaleX(0.9438)">XRP / TetherUS &middot; 1</span><span class="ls w" style="left:83.50px;transform:scaleX(1.0004)">時間</span><span class="ls w" style="left:104.60px;transform:scaleX(0.9443)">&middot; Binance</span><span class="ls w" style="left:145.70px;transform:scaleX(0.9549)">始値</span><span class="ls g" style="left:163.40px;transform:scaleX(0.9422)">1.4427</span><span class="ls w" style="left:194.00px;transform:scaleX(0.9549)">高値</span><span class="ls g" style="left:211.60px;transform:scaleX(0.9700)">1.4483</span><span class="ls w" style="left:242.90px;transform:scaleX(0.9549)">安値</span><span class="ls g" style="left:260.60px;transform:scaleX(0.9254)">1.4401</span><span class="ls w" style="left:290.70px;transform:scaleX(0.9549)">終値</span><span class="ls g" style="left:308.10px;transform:scaleX(0.9775)">1.4482</span><span class="ls g" style="left:340.20px;transform:scaleX(0.9985)">+0.0055</span><span class="ls g" style="left:375.60px;transform:scaleX(1.0347)">(+0.38%)</span>
<svg id="logo" width="40" height="24" viewBox="0 600 40 24"><g fill="#d6d6d6"><path d="M8.5,607.1H17.5V617.9H12.5V611.25H8.5Z"/><circle cx="20.15" cy="609.1" r="1.6"/><path d="M23.9,607.1H29.5L26.2,617.9H20.6Z"/></g></svg>
<div id="logot"><span>TradingView</span></div>
</body></html>
